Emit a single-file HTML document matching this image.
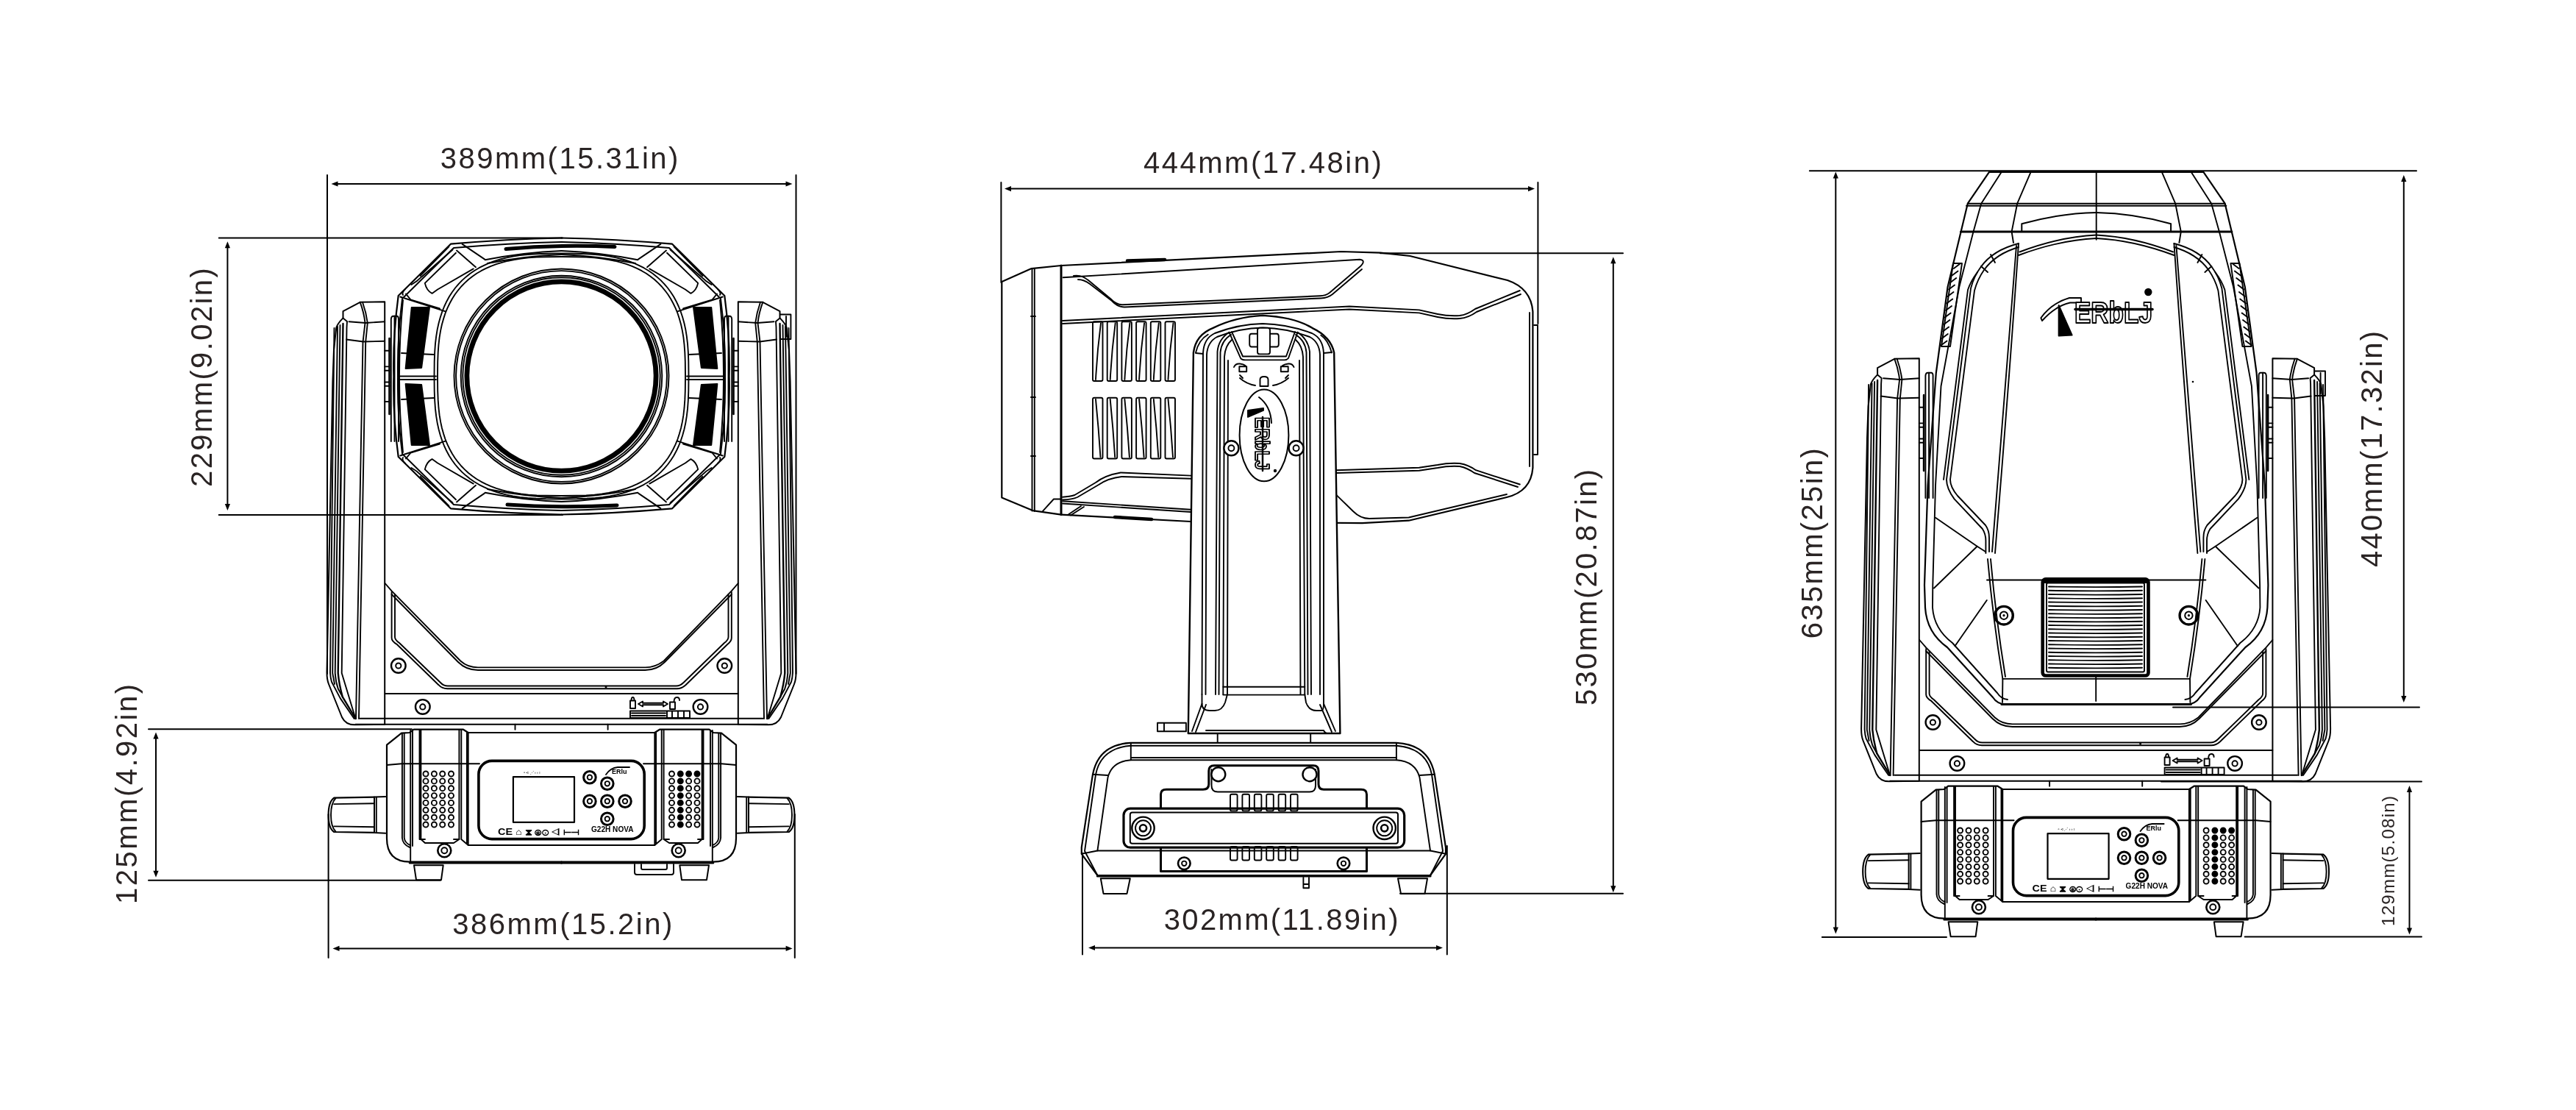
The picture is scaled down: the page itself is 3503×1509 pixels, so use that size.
<!DOCTYPE html>
<html><head><meta charset="utf-8"><style>
html,body{margin:0;padding:0;background:#fff;}
svg{display:block;will-change:transform;}
text{font-family:"Liberation Sans",sans-serif;}
</style></head><body>
<svg width="3503" height="1509" viewBox="0 0 3503 1509" stroke-linejoin="round" stroke-linecap="round">
<rect width="3503" height="1509" fill="#fff"/>
<text x="598.7" y="229.0" font-size="40" letter-spacing="2.5" font-weight="normal" fill="#2a2424">389mm(15.31in)</text>
<line x1="458.5" y1="250" x2="1069.5" y2="250" stroke="#000" stroke-width="2"/>
<path d="M450.5,250 L459.5,246.4 L459.5,253.6 Z" fill="#000"/>
<path d="M1077.5,250 L1068.5,246.4 L1068.5,253.6 Z" fill="#000"/>
<line x1="445" y1="238" x2="445" y2="916" stroke="#000" stroke-width="2"/>
<line x1="1082.5" y1="238" x2="1082.5" y2="916" stroke="#000" stroke-width="2"/>
<line x1="297.7" y1="323.4" x2="765" y2="323.4" stroke="#000" stroke-width="2"/>
<line x1="297.7" y1="700" x2="765" y2="700" stroke="#000" stroke-width="2"/>
<line x1="309.4" y1="336.2" x2="309.4" y2="686" stroke="#000" stroke-width="2"/>
<path d="M309.4,328.2 L305.79999999999995,337.2 L313.0,337.2 Z" fill="#000"/>
<path d="M309.4,694 L305.79999999999995,685 L313.0,685 Z" fill="#000"/>
<text x="0" y="0" transform="translate(288.2,662.0) rotate(-90)" font-size="40" letter-spacing="2.4" fill="#2a2424">229mm(9.02in)</text>
<line x1="202" y1="991.3" x2="560" y2="991.3" stroke="#000" stroke-width="2"/>
<line x1="202" y1="1196.7" x2="599" y2="1196.7" stroke="#000" stroke-width="2"/>
<line x1="212" y1="1003.6" x2="212" y2="1184.7" stroke="#000" stroke-width="2"/>
<path d="M212,995.6 L208.4,1004.6 L215.6,1004.6 Z" fill="#000"/>
<path d="M212,1192.7 L208.4,1183.7 L215.6,1183.7 Z" fill="#000"/>
<text x="0" y="0" transform="translate(185.5,1229.0) rotate(-90)" font-size="40" letter-spacing="2.5" fill="#2a2424">125mm(4.92in)</text>
<text x="615.3" y="1269.8" font-size="40" letter-spacing="2.5" font-weight="normal" fill="#2a2424">386mm(15.2in)</text>
<line x1="460.5" y1="1289.4" x2="1069.6" y2="1289.4" stroke="#000" stroke-width="2"/>
<path d="M452.5,1289.4 L461.5,1285.8000000000002 L461.5,1293.0 Z" fill="#000"/>
<path d="M1077.6,1289.4 L1068.6,1285.8000000000002 L1068.6,1293.0 Z" fill="#000"/>
<line x1="446.6" y1="1107" x2="446.6" y2="1302" stroke="#000" stroke-width="2"/>
<line x1="1080.8" y1="1107" x2="1080.8" y2="1302" stroke="#000" stroke-width="2"/>
<text x="1555.0" y="235.0" font-size="40" letter-spacing="2.5" font-weight="normal" fill="#2a2424">444mm(17.48in)</text>
<line x1="1374" y1="256.6" x2="2079" y2="256.6" stroke="#000" stroke-width="2"/>
<path d="M1366,256.6 L1375,253.00000000000003 L1375,260.20000000000005 Z" fill="#000"/>
<path d="M2087,256.6 L2078,253.00000000000003 L2078,260.20000000000005 Z" fill="#000"/>
<line x1="1361.4" y1="248" x2="1361.4" y2="384" stroke="#000" stroke-width="2"/>
<line x1="2091.4" y1="248" x2="2091.4" y2="440" stroke="#000" stroke-width="2"/>
<line x1="1877" y1="344.3" x2="2207" y2="344.3" stroke="#000" stroke-width="2"/>
<line x1="1904" y1="1214.8" x2="2207" y2="1214.8" stroke="#000" stroke-width="2"/>
<line x1="2193.8" y1="357.3" x2="2193.8" y2="1205.3" stroke="#000" stroke-width="2"/>
<path d="M2193.8,349.3 L2190.2000000000003,358.3 L2197.4,358.3 Z" fill="#000"/>
<path d="M2193.8,1213.3 L2190.2000000000003,1204.3 L2197.4,1204.3 Z" fill="#000"/>
<text x="0" y="0" transform="translate(2170.5,959.0) rotate(-90)" font-size="40" letter-spacing="2.3" fill="#2a2424">530mm(20.87in)</text>
<text x="1582.7" y="1263.9" font-size="40" letter-spacing="2.35" font-weight="normal" fill="#2a2424">302mm(11.89in)</text>
<line x1="1488" y1="1288.5" x2="1954" y2="1288.5" stroke="#000" stroke-width="2"/>
<path d="M1480,1288.5 L1489,1284.9 L1489,1292.1 Z" fill="#000"/>
<path d="M1962,1288.5 L1953,1284.9 L1953,1292.1 Z" fill="#000"/>
<line x1="1472" y1="1160" x2="1472" y2="1297.5" stroke="#000" stroke-width="2"/>
<line x1="1967.8" y1="1150" x2="1967.8" y2="1297.5" stroke="#000" stroke-width="2"/>
<line x1="2460.8" y1="232.3" x2="3286" y2="232.3" stroke="#000" stroke-width="2"/>
<line x1="2477.8" y1="1274" x2="2647" y2="1274" stroke="#000" stroke-width="2"/>
<line x1="2496.3" y1="241.5" x2="2496.3" y2="1261.5" stroke="#000" stroke-width="2"/>
<path d="M2496.3,233.5 L2492.7000000000003,242.5 L2499.9,242.5 Z" fill="#000"/>
<path d="M2496.3,1269.5 L2492.7000000000003,1260.5 L2499.9,1260.5 Z" fill="#000"/>
<text x="0" y="0" transform="translate(2477.5,868.3) rotate(-90)" font-size="40" letter-spacing="2.35" fill="#2a2424">635mm(25in)</text>
<line x1="2955" y1="961.6" x2="3290" y2="961.6" stroke="#000" stroke-width="2"/>
<line x1="3268.8" y1="246" x2="3268.8" y2="947.1" stroke="#000" stroke-width="2"/>
<path d="M3268.8,238 L3265.2000000000003,247 L3272.4,247 Z" fill="#000"/>
<path d="M3268.8,955.1 L3265.2000000000003,946.1 L3272.4,946.1 Z" fill="#000"/>
<text x="0" y="0" transform="translate(3238.7,771.0) rotate(-90)" font-size="40" letter-spacing="2.3" fill="#2a2424">440mm(17.32in)</text>
<line x1="2939" y1="1062.5" x2="3293" y2="1062.5" stroke="#000" stroke-width="2"/>
<line x1="3052.6" y1="1273.5" x2="3293" y2="1273.5" stroke="#000" stroke-width="2"/>
<line x1="3276.5" y1="1076" x2="3276.5" y2="1262.5" stroke="#000" stroke-width="2"/>
<path d="M3276.5,1068 L3272.9,1077 L3280.1,1077 Z" fill="#000"/>
<path d="M3276.5,1270.5 L3272.9,1261.5 L3280.1,1261.5 Z" fill="#000"/>
<text x="0" y="0" transform="translate(3256.0,1259.0) rotate(-90)" font-size="24" letter-spacing="1.3" fill="#2a2424">129mm(5.08in)</text>
<g><path d="M489.7,410.8 L523.2,410.3 L523.2,984.7 L482,985.3 Q470,985.3 465,975 L447,930 Q444.5,924 444.5,914 L452.4,519 L454,475.7 L457.3,445.4 Q459,440 466.5,432.4 L466.5,423.2 Z" stroke="#000" stroke-width="2" fill="none"/><path d="M466.5,432.4 L472,437 L471.5,445 L464.7,915 L483.5,977" stroke="#000" stroke-width="1.9" fill="none"/><path d="M454.5,446 L449,914.7 Q449.5,922 451,927 L462.8,949.4 L481.6,977" stroke="#000" stroke-width="1.9" fill="none"/><path d="M459,444 L452.2,915 L455,930" stroke="#000" stroke-width="1.9" fill="none"/><path d="M462.5,442 L455.7,915 Q456.5,927 459.8,936.5 L465.8,947.4" stroke="#000" stroke-width="1.9" fill="none"/><path d="M466.5,440 L459.7,915 Q461,930 465.8,947.4 L483.6,977" stroke="#000" stroke-width="2.4" fill="none"/><path d="M489.7,410.8 Q495,425 496.5,439 L493.5,465 L484,977" stroke="#000" stroke-width="1.9" fill="none"/><path d="M493,410.8 Q498,425 499.8,439 L497.2,465 L488,977" stroke="#000" stroke-width="1.9" fill="none"/><path d="M474.5,437.3 L497,439 L523.2,437.3" stroke="#000" stroke-width="1.9" fill="none"/><path d="M471,461.5 L494,464.5 L523.2,463.8" stroke="#000" stroke-width="1.9" fill="none"/><path d="M523.2,476.8 L529.5,476.8 M523.2,498.4 L529.5,498.4 M523.2,503.8 L529.5,503.8 M523.2,519.5 L529.5,519.5 M523.2,524.8 L529.5,524.8 M523.2,546 L529.5,546" stroke="#000" stroke-width="1.9" fill="none"/><path d="M529.5,460 L529.5,563" stroke="#000" stroke-width="2.6" fill="none"/><path d="M531.8,600 L531.8,434 Q532,429.7 535,429.7 L540,429.7 Q542,430 542,434 L542,600" stroke="#000" stroke-width="1.9" fill="none"/><path d="M536.5,429.7 L536.5,600" stroke="#000" stroke-width="1.9" fill="none"/></g>
<g transform="translate(1527.0,0) scale(-1,1)"><path d="M489.7,410.8 L523.2,410.3 L523.2,984.7 L482,985.3 Q470,985.3 465,975 L447,930 Q444.5,924 444.5,914 L452.4,519 L454,475.7 L457.3,445.4 Q459,440 466.5,432.4 L466.5,423.2 Z" stroke="#000" stroke-width="2" fill="none"/><path d="M466.5,432.4 L472,437 L471.5,445 L464.7,915 L483.5,977" stroke="#000" stroke-width="1.9" fill="none"/><path d="M454.5,446 L449,914.7 Q449.5,922 451,927 L462.8,949.4 L481.6,977" stroke="#000" stroke-width="1.9" fill="none"/><path d="M459,444 L452.2,915 L455,930" stroke="#000" stroke-width="1.9" fill="none"/><path d="M462.5,442 L455.7,915 Q456.5,927 459.8,936.5 L465.8,947.4" stroke="#000" stroke-width="1.9" fill="none"/><path d="M466.5,440 L459.7,915 Q461,930 465.8,947.4 L483.6,977" stroke="#000" stroke-width="2.4" fill="none"/><path d="M489.7,410.8 Q495,425 496.5,439 L493.5,465 L484,977" stroke="#000" stroke-width="1.9" fill="none"/><path d="M493,410.8 Q498,425 499.8,439 L497.2,465 L488,977" stroke="#000" stroke-width="1.9" fill="none"/><path d="M474.5,437.3 L497,439 L523.2,437.3" stroke="#000" stroke-width="1.9" fill="none"/><path d="M471,461.5 L494,464.5 L523.2,463.8" stroke="#000" stroke-width="1.9" fill="none"/><path d="M523.2,476.8 L529.5,476.8 M523.2,498.4 L529.5,498.4 M523.2,503.8 L529.5,503.8 M523.2,519.5 L529.5,519.5 M523.2,524.8 L529.5,524.8 M523.2,546 L529.5,546" stroke="#000" stroke-width="1.9" fill="none"/><path d="M529.5,460 L529.5,563" stroke="#000" stroke-width="2.6" fill="none"/><path d="M531.8,600 L531.8,434 Q532,429.7 535,429.7 L540,429.7 Q542,430 542,434 L542,600" stroke="#000" stroke-width="1.9" fill="none"/><path d="M536.5,429.7 L536.5,600" stroke="#000" stroke-width="1.9" fill="none"/></g>
<path d="M1061.3,427.5 L1075.4,427.5 L1075.4,461 L1061.3,461" stroke="#000" stroke-width="1.9" fill="none"/>
<path d="M1069,430 L1069,458" stroke="#000" stroke-width="1.9" fill="none"/>
<path d="M523.6,793 L532.6,803.4 L626.2,898.5 Q636,907.4 650,907.4 L877.4,907.4 Q891,907.4 902.7,898.5 L994.8,803.4 L1003.7,793" stroke="#000" stroke-width="1.9" fill="none"/>
<path d="M532.6,808 L623,900 Q634,911 650,911 L877.4,911 Q893,911 904,900 L994.8,808" stroke="#000" stroke-width="1.9" fill="none"/>
<path d="M532.6,804.9 L532.6,867.3 Q532.6,872 540,876.2 L596.5,931.2 Q601,936.2 608.4,936.2 L920.5,936.2 Q927,936.2 932.4,931.2 L988.9,876.2 Q994.8,872 994.8,867.3 L994.8,804.9" stroke="#000" stroke-width="1.9" fill="none"/>
<path d="M537,808 L537,866 Q537,870 543,874 L599,928 Q603,932.5 609,932.5 L919.5,932.5 Q925,932.5 929.5,928 L985,874 Q990.5,870 990.5,866 L990.5,808" stroke="#000" stroke-width="1.9" fill="none"/>
<circle cx="541.8" cy="905" r="9.8" stroke="#000" stroke-width="2.4" fill="none"/>
<circle cx="541.8" cy="905" r="3.6" stroke="#000" stroke-width="2" fill="none"/>
<circle cx="985.3" cy="905" r="9.8" stroke="#000" stroke-width="2.4" fill="none"/>
<circle cx="985.3" cy="905" r="3.6" stroke="#000" stroke-width="2" fill="none"/>
<circle cx="574.8" cy="960.9" r="9.8" stroke="#000" stroke-width="2.4" fill="none"/>
<circle cx="574.8" cy="960.9" r="3.6" stroke="#000" stroke-width="2" fill="none"/>
<circle cx="952.5" cy="960.9" r="9.8" stroke="#000" stroke-width="2.4" fill="none"/>
<circle cx="952.5" cy="960.9" r="3.6" stroke="#000" stroke-width="2" fill="none"/>
<path d="M523.6,943 L1003.7,943" stroke="#000" stroke-width="2" fill="none"/>
<path d="M489.5,976.7 L1037.5,976.7" stroke="#000" stroke-width="1.9" fill="none"/>
<path d="M483.5,984.7 L1043.5,984.7" stroke="#000" stroke-width="2" fill="none"/>
<circle cx="824" cy="934" r="1.5" fill="#000"/>
<path d="M857,952.5 L857,963 L864,963 L864,952.5 Z M858.5,952.5 Q858.5,948 860.5,948 Q862.5,948 862.5,952.5" stroke="#000" stroke-width="1.9" fill="none"/>
<path d="M868,957 L874,953.5 L874,955.8 L902,955.8 L902,953.5 L908,957 L902,960.5 L902,958.2 L874,958.2 L874,960.5 Z" stroke="#000" stroke-width="1.9" fill="none"/>
<path d="M911,954.5 L911,964 L918,964 L918,954.5 Z M916.5,954.5 Q916.5,948 920.5,948 Q924,948 924,952" stroke="#000" stroke-width="1.9" fill="none"/>
<path d="M857,966.5 L938,966.5 L938,976 L857,976 Z" stroke="#000" stroke-width="1.9" fill="none"/>
<path d="M859,969.5 L905,969.5 M859,973 L905,973 M907,967 L907,976 M914,967 L914,976 M922,967 L922,976 M930,967 L930,976" stroke="#000" stroke-width="1.9" fill="none"/>
<path d="M700.5,984.7 L700.5,991.7 M826.6,984.7 L826.6,991.7" stroke="#000" stroke-width="1.9" fill="none"/>
<g><path d="M763.5,996 L636.7,996 L630,991.7 L562.6,991.7 L557,996 L546,996.6 L526,1012.7 L526,1139.5 Q526,1171.6 557.3,1171.6 L763.5,1171.6" stroke="#000" stroke-width="2.2" fill="none"/><path d="M557.3,1173 L763.5,1173" stroke="#000" stroke-width="3.2" fill="none"/><path d="M546.9,997 L546.9,1139 Q547.5,1148 557.3,1152" stroke="#000" stroke-width="1.9" fill="none"/><path d="M549.7,997 L549.7,1139 Q550.5,1146 558,1149" stroke="#000" stroke-width="1.9" fill="none"/><path d="M558.2,993 L558.2,1171.6" stroke="#000" stroke-width="1.9" fill="none"/><path d="M561,993 L561,1150" stroke="#000" stroke-width="1.9" fill="none"/><path d="M570.5,992 L570.5,1141 L578,1141 M572.4,992 L572.4,1141" stroke="#000" stroke-width="1.9" fill="none"/><path d="M624.4,992 L624.4,1141 L617,1141 M627.3,992 L627.3,1141 L636.7,1149 L763.5,1149" stroke="#000" stroke-width="1.9" fill="none"/><path d="M634.9,996 L634.9,1146 M636.7,996 L636.7,1149" stroke="#000" stroke-width="1.9" fill="none"/><path d="M526,1040 L546,1038.2 L652,1038.2" stroke="#000" stroke-width="1.9" fill="none"/><path d="M572.4,1141 L578,1146 L617,1146 L624.4,1141" stroke="#000" stroke-width="1.9" fill="none"/><circle cx="579" cy="1052.0" r="3.5" stroke="#000" stroke-width="1.9" fill="none"/><circle cx="579" cy="1061.9" r="3.5" stroke="#000" stroke-width="1.9" fill="none"/><circle cx="579" cy="1071.7" r="3.5" stroke="#000" stroke-width="1.9" fill="none"/><circle cx="579" cy="1081.6" r="3.5" stroke="#000" stroke-width="1.9" fill="none"/><circle cx="579" cy="1091.4" r="3.5" stroke="#000" stroke-width="1.9" fill="none"/><circle cx="579" cy="1101.3" r="3.5" stroke="#000" stroke-width="1.9" fill="none"/><circle cx="579" cy="1111.2" r="3.5" stroke="#000" stroke-width="1.9" fill="none"/><circle cx="579" cy="1121.0" r="3.5" stroke="#000" stroke-width="1.9" fill="none"/><circle cx="590.4" cy="1052.0" r="3.5" stroke="#000" stroke-width="1.9" fill="none"/><circle cx="590.4" cy="1061.9" r="3.5" stroke="#000" stroke-width="1.9" fill="none"/><circle cx="590.4" cy="1071.7" r="3.5" stroke="#000" stroke-width="1.9" fill="none"/><circle cx="590.4" cy="1081.6" r="3.5" stroke="#000" stroke-width="1.9" fill="none"/><circle cx="590.4" cy="1091.4" r="3.5" stroke="#000" stroke-width="1.9" fill="none"/><circle cx="590.4" cy="1101.3" r="3.5" stroke="#000" stroke-width="1.9" fill="none"/><circle cx="590.4" cy="1111.2" r="3.5" stroke="#000" stroke-width="1.9" fill="none"/><circle cx="590.4" cy="1121.0" r="3.5" stroke="#000" stroke-width="1.9" fill="none"/><circle cx="601.7" cy="1052.0" r="3.5" stroke="#000" stroke-width="1.9" fill="none"/><circle cx="601.7" cy="1061.9" r="3.5" stroke="#000" stroke-width="1.9" fill="none"/><circle cx="601.7" cy="1071.7" r="3.5" stroke="#000" stroke-width="1.9" fill="none"/><circle cx="601.7" cy="1081.6" r="3.5" stroke="#000" stroke-width="1.9" fill="none"/><circle cx="601.7" cy="1091.4" r="3.5" stroke="#000" stroke-width="1.9" fill="none"/><circle cx="601.7" cy="1101.3" r="3.5" stroke="#000" stroke-width="1.9" fill="none"/><circle cx="601.7" cy="1111.2" r="3.5" stroke="#000" stroke-width="1.9" fill="none"/><circle cx="601.7" cy="1121.0" r="3.5" stroke="#000" stroke-width="1.9" fill="none"/><circle cx="613.5" cy="1052.0" r="3.5" stroke="#000" stroke-width="1.9" fill="none"/><circle cx="613.5" cy="1061.9" r="3.5" stroke="#000" stroke-width="1.9" fill="none"/><circle cx="613.5" cy="1071.7" r="3.5" stroke="#000" stroke-width="1.9" fill="none"/><circle cx="613.5" cy="1081.6" r="3.5" stroke="#000" stroke-width="1.9" fill="none"/><circle cx="613.5" cy="1091.4" r="3.5" stroke="#000" stroke-width="1.9" fill="none"/><circle cx="613.5" cy="1101.3" r="3.5" stroke="#000" stroke-width="1.9" fill="none"/><circle cx="613.5" cy="1111.2" r="3.5" stroke="#000" stroke-width="1.9" fill="none"/><circle cx="613.5" cy="1121.0" r="3.5" stroke="#000" stroke-width="1.9" fill="none"/><path d="M563,1176.3 L602.7,1176.3 L600,1196.2 L566,1196.2 Z" stroke="#000" stroke-width="2" fill="none"/><path d="M524.2,1083 L509,1083.6 L509,1131.9 L524.2,1132.8" stroke="#000" stroke-width="2" fill="none"/><path d="M511.8,1083.6 L511.8,1131.9" stroke="#000" stroke-width="1.9" fill="none"/><path d="M509,1083.6 L454.2,1084.6 Q446.6,1090 446.6,1108 Q446.6,1126 454.2,1131 L509,1131.9" stroke="#000" stroke-width="2.1" fill="none"/><path d="M456.5,1085 Q450,1092 450,1108 Q450,1124 456.5,1130.5" stroke="#000" stroke-width="1.9" fill="none"/><path d="M454.2,1093.1 L509,1092.3 M454.2,1123.4 L509,1124.2" stroke="#000" stroke-width="1.9" fill="none"/><circle cx="604.3" cy="1156.3" r="9" stroke="#000" stroke-width="2.6" fill="none"/><circle cx="604.3" cy="1156.3" r="4" stroke="#000" stroke-width="1.9" fill="none"/></g>
<g transform="translate(1527.0,0) scale(-1,1)"><path d="M763.5,996 L636.7,996 L630,991.7 L562.6,991.7 L557,996 L546,996.6 L526,1012.7 L526,1139.5 Q526,1171.6 557.3,1171.6 L763.5,1171.6" stroke="#000" stroke-width="2.2" fill="none"/><path d="M557.3,1173 L763.5,1173" stroke="#000" stroke-width="3.2" fill="none"/><path d="M546.9,997 L546.9,1139 Q547.5,1148 557.3,1152" stroke="#000" stroke-width="1.9" fill="none"/><path d="M549.7,997 L549.7,1139 Q550.5,1146 558,1149" stroke="#000" stroke-width="1.9" fill="none"/><path d="M558.2,993 L558.2,1171.6" stroke="#000" stroke-width="1.9" fill="none"/><path d="M561,993 L561,1150" stroke="#000" stroke-width="1.9" fill="none"/><path d="M570.5,992 L570.5,1141 L578,1141 M572.4,992 L572.4,1141" stroke="#000" stroke-width="1.9" fill="none"/><path d="M624.4,992 L624.4,1141 L617,1141 M627.3,992 L627.3,1141 L636.7,1149 L763.5,1149" stroke="#000" stroke-width="1.9" fill="none"/><path d="M634.9,996 L634.9,1146 M636.7,996 L636.7,1149" stroke="#000" stroke-width="1.9" fill="none"/><path d="M526,1040 L546,1038.2 L652,1038.2" stroke="#000" stroke-width="1.9" fill="none"/><path d="M572.4,1141 L578,1146 L617,1146 L624.4,1141" stroke="#000" stroke-width="1.9" fill="none"/><circle cx="579" cy="1052.0" r="3.5" stroke="#000" stroke-width="1.9" fill="none"/><circle cx="579" cy="1061.9" r="3.5" stroke="#000" stroke-width="1.9" fill="none"/><circle cx="579" cy="1071.7" r="3.5" stroke="#000" stroke-width="1.9" fill="none"/><circle cx="579" cy="1081.6" r="3.5" stroke="#000" stroke-width="1.9" fill="none"/><circle cx="579" cy="1091.4" r="3.5" stroke="#000" stroke-width="1.9" fill="none"/><circle cx="579" cy="1101.3" r="3.5" stroke="#000" stroke-width="1.9" fill="none"/><circle cx="579" cy="1111.2" r="3.5" stroke="#000" stroke-width="1.9" fill="none"/><circle cx="579" cy="1121.0" r="3.5" stroke="#000" stroke-width="1.9" fill="none"/><circle cx="590.4" cy="1052.0" r="3.5" stroke="#000" stroke-width="1.9" fill="none"/><circle cx="590.4" cy="1061.9" r="3.5" stroke="#000" stroke-width="1.9" fill="none"/><circle cx="590.4" cy="1071.7" r="3.5" stroke="#000" stroke-width="1.9" fill="none"/><circle cx="590.4" cy="1081.6" r="3.5" stroke="#000" stroke-width="1.9" fill="none"/><circle cx="590.4" cy="1091.4" r="3.5" stroke="#000" stroke-width="1.9" fill="none"/><circle cx="590.4" cy="1101.3" r="3.5" stroke="#000" stroke-width="1.9" fill="none"/><circle cx="590.4" cy="1111.2" r="3.5" stroke="#000" stroke-width="1.9" fill="none"/><circle cx="590.4" cy="1121.0" r="3.5" stroke="#000" stroke-width="1.9" fill="none"/><circle cx="601.7" cy="1052.0" r="3.5" stroke="#000" stroke-width="1.9" fill="none"/><circle cx="601.7" cy="1061.9" r="3.5" stroke="#000" stroke-width="1.9" fill="none"/><circle cx="601.7" cy="1071.7" r="3.5" stroke="#000" stroke-width="1.9" fill="none"/><circle cx="601.7" cy="1081.6" r="3.5" stroke="#000" stroke-width="1.9" fill="none"/><circle cx="601.7" cy="1091.4" r="3.5" stroke="#000" stroke-width="1.9" fill="none"/><circle cx="601.7" cy="1101.3" r="3.5" stroke="#000" stroke-width="1.9" fill="none"/><circle cx="601.7" cy="1111.2" r="3.5" stroke="#000" stroke-width="1.9" fill="none"/><circle cx="601.7" cy="1121.0" r="3.5" stroke="#000" stroke-width="1.9" fill="none"/><circle cx="613.5" cy="1052.0" r="3.5" stroke="#000" stroke-width="1.9" fill="none"/><circle cx="613.5" cy="1061.9" r="3.5" stroke="#000" stroke-width="1.9" fill="none"/><circle cx="613.5" cy="1071.7" r="3.5" stroke="#000" stroke-width="1.9" fill="none"/><circle cx="613.5" cy="1081.6" r="3.5" stroke="#000" stroke-width="1.9" fill="none"/><circle cx="613.5" cy="1091.4" r="3.5" stroke="#000" stroke-width="1.9" fill="none"/><circle cx="613.5" cy="1101.3" r="3.5" stroke="#000" stroke-width="1.9" fill="none"/><circle cx="613.5" cy="1111.2" r="3.5" stroke="#000" stroke-width="1.9" fill="none"/><circle cx="613.5" cy="1121.0" r="3.5" stroke="#000" stroke-width="1.9" fill="none"/><path d="M563,1176.3 L602.7,1176.3 L600,1196.2 L566,1196.2 Z" stroke="#000" stroke-width="2" fill="none"/><path d="M524.2,1083 L509,1083.6 L509,1131.9 L524.2,1132.8" stroke="#000" stroke-width="2" fill="none"/><path d="M511.8,1083.6 L511.8,1131.9" stroke="#000" stroke-width="1.9" fill="none"/><path d="M509,1083.6 L454.2,1084.6 Q446.6,1090 446.6,1108 Q446.6,1126 454.2,1131 L509,1131.9" stroke="#000" stroke-width="2.1" fill="none"/><path d="M456.5,1085 Q450,1092 450,1108 Q450,1124 456.5,1130.5" stroke="#000" stroke-width="1.9" fill="none"/><path d="M454.2,1093.1 L509,1092.3 M454.2,1123.4 L509,1124.2" stroke="#000" stroke-width="1.9" fill="none"/><circle cx="604.3" cy="1156.3" r="9" stroke="#000" stroke-width="2.6" fill="none"/><circle cx="604.3" cy="1156.3" r="4" stroke="#000" stroke-width="1.9" fill="none"/></g>
<circle cx="925.3" cy="1052.0" r="3.5" fill="#000"/>
<circle cx="925.3" cy="1061.9" r="3.5" fill="#000"/>
<circle cx="925.3" cy="1071.7" r="3.5" fill="#000"/>
<circle cx="925.3" cy="1081.6" r="3.5" fill="#000"/>
<circle cx="925.3" cy="1091.4" r="3.5" fill="#000"/>
<circle cx="925.3" cy="1101.3" r="3.5" fill="#000"/>
<circle cx="925.3" cy="1111.2" r="3.5" fill="#000"/>
<circle cx="925.3" cy="1121.0" r="3.5" fill="#000"/>
<circle cx="936.6" cy="1052.0" r="3.5" fill="#000"/>
<circle cx="948" cy="1052.0" r="3.5" fill="#000"/>
<rect x="650.9" y="1034.4" width="225.3" height="106.2" rx="18" stroke="#000" stroke-width="3.6" fill="none"/>
<rect x="697.9" y="1056.2" width="83.1" height="61.6" stroke="#000" stroke-width="2.2" fill="none"/>
<circle cx="801.9" cy="1056.7" r="8.3" stroke="#000" stroke-width="3" fill="none"/>
<circle cx="801.9" cy="1056.7" r="3.2" stroke="#000" stroke-width="1.9" fill="none"/>
<circle cx="825.8" cy="1065.3" r="8.3" stroke="#000" stroke-width="3" fill="none"/>
<circle cx="825.8" cy="1065.3" r="3.2" stroke="#000" stroke-width="1.9" fill="none"/>
<circle cx="801.9" cy="1089.2" r="8.3" stroke="#000" stroke-width="3" fill="none"/>
<circle cx="801.9" cy="1089.2" r="3.2" stroke="#000" stroke-width="1.9" fill="none"/>
<circle cx="825.8" cy="1089.2" r="8.3" stroke="#000" stroke-width="3" fill="none"/>
<circle cx="825.8" cy="1089.2" r="3.2" stroke="#000" stroke-width="1.9" fill="none"/>
<circle cx="850" cy="1089.2" r="8.3" stroke="#000" stroke-width="3" fill="none"/>
<circle cx="850" cy="1089.2" r="3.2" stroke="#000" stroke-width="1.9" fill="none"/>
<circle cx="825.8" cy="1113.2" r="8.3" stroke="#000" stroke-width="3" fill="none"/>
<circle cx="825.8" cy="1113.2" r="3.2" stroke="#000" stroke-width="1.9" fill="none"/>
<text x="804" y="1131.2" font-size="10.6" font-weight="bold" fill="#000" textLength="57.5" lengthAdjust="spacingAndGlyphs">G22H NOVA</text>
<text x="677" y="1134.5" font-size="12" font-weight="bold" fill="#000" textLength="111" lengthAdjust="spacingAndGlyphs">CE ⌂ ⧗ ⊛⊙ ◁ ⊢⊣</text>
<text x="712" y="1052" font-size="5" fill="#000">ᵃ ⋖ ⋰ ›  ›  ı</text>
<path d="M824,1053 Q830,1044 840,1043 L856,1043" stroke="#000" stroke-width="1.9" fill="none"/>
<text x="832" y="1052" font-size="9" font-weight="bold" fill="#000">ERlu</text>
<g><path d="M763.5,323.5 Q690,325 612.9,331.7 L541.7,402 Q534,460 535.4,511.5 Q534,563 541.7,621 L612.9,691.3 Q690,698 763.5,699.5" stroke="#000" stroke-width="2.2" fill="none"/><path d="M763.5,329 Q692,330.5 617,337 L547,406 Q540,460 541,511.5 Q540,563 547,617 L617,686 Q692,692.5 763.5,694" stroke="#000" stroke-width="1.9" fill="none"/><path d="M659.7,353.3 Q712,343 763.5,341" stroke="#000" stroke-width="1.9" fill="none"/><path d="M663,358 Q714,348 763.5,346" stroke="#000" stroke-width="1.9" fill="none"/><path d="M659.7,669.7 Q712,680 763.5,682" stroke="#000" stroke-width="1.9" fill="none"/><path d="M663,665 Q714,675 763.5,677" stroke="#000" stroke-width="1.9" fill="none"/><path d="M610.4,335.4 L571.6,375.1" stroke="#000" stroke-width="1.9" fill="none"/><path d="M615.5,339.5 L573.5,376.2 Q567,383 559.4,387" stroke="#000" stroke-width="1.9" fill="none"/><path d="M620,343.8 L577.8,384.9 Q580,395 587.5,398.9 L595.1,393.5 L643.8,365.4" stroke="#000" stroke-width="1.9" fill="none"/><path d="M628.6,331.9 L658.9,352.4" stroke="#000" stroke-width="1.9" fill="none"/><path d="M621,340.5 L647,363.2" stroke="#000" stroke-width="1.9" fill="none"/><path d="M544.2,403.5 L605.7,423.4" stroke="#000" stroke-width="1.9" fill="none"/><path d="M552,399.5 L558.4,407.3 L598,419.5" stroke="#000" stroke-width="1.9" fill="none"/><path d="M548,401 Q546,398 551,393" stroke="#000" stroke-width="1.9" fill="none"/><g transform="translate(0,1023.0) scale(1,-1)"><path d="M610.4,335.4 L571.6,375.1" stroke="#000" stroke-width="1.9" fill="none"/><path d="M615.5,339.5 L573.5,376.2 Q567,383 559.4,387" stroke="#000" stroke-width="1.9" fill="none"/><path d="M620,343.8 L577.8,384.9 Q580,395 587.5,398.9 L595.1,393.5 L643.8,365.4" stroke="#000" stroke-width="1.9" fill="none"/><path d="M628.6,331.9 L658.9,352.4" stroke="#000" stroke-width="1.9" fill="none"/><path d="M621,340.5 L647,363.2" stroke="#000" stroke-width="1.9" fill="none"/><path d="M544.2,403.5 L605.7,423.4" stroke="#000" stroke-width="1.9" fill="none"/><path d="M552,399.5 L558.4,407.3 L598,419.5" stroke="#000" stroke-width="1.9" fill="none"/><path d="M548,401 Q546,398 551,393" stroke="#000" stroke-width="1.9" fill="none"/></g><path d="M559.7,418 L584,418 L573.2,500 L551.6,501 Z" stroke="#000" stroke-width="1.9" fill="#000"/><path d="M551.6,522 L573.2,523 L584,605 L559.7,605 Z" stroke="#000" stroke-width="1.9" fill="#000"/><path d="M546,480 L590,482 M541,511.5 L593,511.5 M541,516 L593,516 M546,543 L590,541" stroke="#000" stroke-width="1.9" fill="none"/><path d="M548,408 Q543,460 543,511.5 Q543,563 548,615" stroke="#000" stroke-width="1.9" fill="none"/></g>
<g transform="translate(1527.0,0) scale(-1,1)"><path d="M763.5,323.5 Q690,325 612.9,331.7 L541.7,402 Q534,460 535.4,511.5 Q534,563 541.7,621 L612.9,691.3 Q690,698 763.5,699.5" stroke="#000" stroke-width="2.2" fill="none"/><path d="M763.5,329 Q692,330.5 617,337 L547,406 Q540,460 541,511.5 Q540,563 547,617 L617,686 Q692,692.5 763.5,694" stroke="#000" stroke-width="1.9" fill="none"/><path d="M659.7,353.3 Q712,343 763.5,341" stroke="#000" stroke-width="1.9" fill="none"/><path d="M663,358 Q714,348 763.5,346" stroke="#000" stroke-width="1.9" fill="none"/><path d="M659.7,669.7 Q712,680 763.5,682" stroke="#000" stroke-width="1.9" fill="none"/><path d="M663,665 Q714,675 763.5,677" stroke="#000" stroke-width="1.9" fill="none"/><path d="M610.4,335.4 L571.6,375.1" stroke="#000" stroke-width="1.9" fill="none"/><path d="M615.5,339.5 L573.5,376.2 Q567,383 559.4,387" stroke="#000" stroke-width="1.9" fill="none"/><path d="M620,343.8 L577.8,384.9 Q580,395 587.5,398.9 L595.1,393.5 L643.8,365.4" stroke="#000" stroke-width="1.9" fill="none"/><path d="M628.6,331.9 L658.9,352.4" stroke="#000" stroke-width="1.9" fill="none"/><path d="M621,340.5 L647,363.2" stroke="#000" stroke-width="1.9" fill="none"/><path d="M544.2,403.5 L605.7,423.4" stroke="#000" stroke-width="1.9" fill="none"/><path d="M552,399.5 L558.4,407.3 L598,419.5" stroke="#000" stroke-width="1.9" fill="none"/><path d="M548,401 Q546,398 551,393" stroke="#000" stroke-width="1.9" fill="none"/><g transform="translate(0,1023.0) scale(1,-1)"><path d="M610.4,335.4 L571.6,375.1" stroke="#000" stroke-width="1.9" fill="none"/><path d="M615.5,339.5 L573.5,376.2 Q567,383 559.4,387" stroke="#000" stroke-width="1.9" fill="none"/><path d="M620,343.8 L577.8,384.9 Q580,395 587.5,398.9 L595.1,393.5 L643.8,365.4" stroke="#000" stroke-width="1.9" fill="none"/><path d="M628.6,331.9 L658.9,352.4" stroke="#000" stroke-width="1.9" fill="none"/><path d="M621,340.5 L647,363.2" stroke="#000" stroke-width="1.9" fill="none"/><path d="M544.2,403.5 L605.7,423.4" stroke="#000" stroke-width="1.9" fill="none"/><path d="M552,399.5 L558.4,407.3 L598,419.5" stroke="#000" stroke-width="1.9" fill="none"/><path d="M548,401 Q546,398 551,393" stroke="#000" stroke-width="1.9" fill="none"/></g><path d="M559.7,418 L584,418 L573.2,500 L551.6,501 Z" stroke="#000" stroke-width="1.9" fill="#000"/><path d="M551.6,522 L573.2,523 L584,605 L559.7,605 Z" stroke="#000" stroke-width="1.9" fill="#000"/><path d="M546,480 L590,482 M541,511.5 L593,511.5 M541,516 L593,516 M546,543 L590,541" stroke="#000" stroke-width="1.9" fill="none"/><path d="M548,408 Q543,460 543,511.5 Q543,563 548,615" stroke="#000" stroke-width="1.9" fill="none"/></g>
<path d="M936.5,511.5 L936.3,531.8 L935.8,544.8 L935.0,555.9 L933.8,565.9 L932.3,575.1 L930.4,583.7 L928.2,591.7 L925.7,599.3 L922.8,606.5 L919.6,613.3 L916.1,619.7 L912.2,625.8 L908.0,631.5 L903.4,636.8 L898.6,641.9 L893.3,646.6 L887.8,651.0 L881.9,655.0 L875.6,658.8 L868.9,662.2 L861.9,665.3 L854.5,668.1 L846.6,670.5 L838.3,672.6 L829.4,674.4 L819.8,675.9 L809.5,677.0 L798.0,677.8 L784.5,678.3 L763.5,678.5 L742.5,678.3 L729.0,677.8 L717.5,677.0 L707.2,675.9 L697.6,674.4 L688.7,672.6 L680.4,670.5 L672.5,668.1 L665.1,665.3 L658.1,662.2 L651.4,658.8 L645.1,655.0 L639.2,651.0 L633.7,646.6 L628.4,641.9 L623.6,636.8 L619.0,631.5 L614.8,625.8 L610.9,619.7 L607.4,613.3 L604.2,606.5 L601.3,599.3 L598.8,591.7 L596.6,583.7 L594.7,575.1 L593.2,565.9 L592.0,555.9 L591.2,544.8 L590.7,531.8 L590.5,511.5 L590.7,491.2 L591.2,478.2 L592.0,467.1 L593.2,457.1 L594.7,447.9 L596.6,439.3 L598.8,431.3 L601.3,423.7 L604.2,416.5 L607.4,409.7 L610.9,403.3 L614.8,397.2 L619.0,391.5 L623.6,386.2 L628.4,381.1 L633.7,376.4 L639.2,372.0 L645.1,368.0 L651.4,364.2 L658.1,360.8 L665.1,357.7 L672.5,354.9 L680.4,352.5 L688.7,350.4 L697.6,348.6 L707.2,347.1 L717.5,346.0 L729.0,345.2 L742.5,344.7 L763.5,344.5 L784.5,344.7 L798.0,345.2 L809.5,346.0 L819.8,347.1 L829.4,348.6 L838.3,350.4 L846.6,352.5 L854.5,354.9 L861.9,357.7 L868.9,360.8 L875.6,364.2 L881.9,368.0 L887.8,372.0 L893.3,376.4 L898.6,381.1 L903.4,386.2 L908.0,391.5 L912.2,397.2 L916.1,403.3 L919.6,409.7 L922.8,416.5 L925.7,423.7 L928.2,431.3 L930.4,439.3 L932.3,447.9 L933.8,457.1 L935.0,467.1 L935.8,478.2 L936.3,491.2 Z" stroke="#000" stroke-width="1.9" fill="none"/>
<path d="M932.0,511.5 L931.8,531.3 L931.3,543.9 L930.5,554.7 L929.4,564.4 L927.9,573.4 L926.1,581.7 L923.9,589.6 L921.5,597.0 L918.7,603.9 L915.5,610.5 L912.1,616.8 L908.3,622.7 L904.2,628.2 L899.8,633.5 L895.0,638.4 L890.0,643.0 L884.5,647.2 L878.8,651.2 L872.7,654.8 L866.2,658.1 L859.4,661.1 L852.1,663.8 L844.5,666.2 L836.3,668.3 L827.7,670.0 L818.4,671.5 L808.3,672.6 L797.1,673.4 L784.0,673.8 L763.5,674.0 L743.0,673.8 L729.9,673.4 L718.7,672.6 L708.6,671.5 L699.3,670.0 L690.7,668.3 L682.5,666.2 L674.9,663.8 L667.6,661.1 L660.8,658.1 L654.3,654.8 L648.2,651.2 L642.5,647.2 L637.0,643.0 L632.0,638.4 L627.2,633.5 L622.8,628.2 L618.7,622.7 L614.9,616.8 L611.5,610.5 L608.3,603.9 L605.5,597.0 L603.1,589.6 L600.9,581.7 L599.1,573.4 L597.6,564.4 L596.5,554.7 L595.7,543.9 L595.2,531.3 L595.0,511.5 L595.2,491.7 L595.7,479.1 L596.5,468.3 L597.6,458.6 L599.1,449.6 L600.9,441.3 L603.1,433.4 L605.5,426.0 L608.3,419.1 L611.5,412.5 L614.9,406.2 L618.7,400.3 L622.8,394.8 L627.2,389.5 L632.0,384.6 L637.0,380.0 L642.5,375.8 L648.2,371.8 L654.3,368.2 L660.8,364.9 L667.6,361.9 L674.9,359.2 L682.5,356.8 L690.7,354.7 L699.3,353.0 L708.6,351.5 L718.7,350.4 L729.9,349.6 L743.0,349.2 L763.5,349.0 L784.0,349.2 L797.1,349.6 L808.3,350.4 L818.4,351.5 L827.7,353.0 L836.3,354.7 L844.5,356.8 L852.1,359.2 L859.4,361.9 L866.2,364.9 L872.7,368.2 L878.8,371.8 L884.5,375.8 L890.0,380.0 L895.0,384.6 L899.8,389.5 L904.2,394.8 L908.3,400.3 L912.1,406.2 L915.5,412.5 L918.7,419.1 L921.5,426.0 L923.9,433.4 L926.1,441.3 L927.9,449.6 L929.4,458.6 L930.5,468.3 L931.3,479.1 L931.8,491.7 Z" stroke="#000" stroke-width="1.9" fill="none"/>
<circle cx="763.5" cy="511.5" r="146" stroke="#000" stroke-width="1.9" fill="none"/>
<circle cx="763.5" cy="511.5" r="143.4" stroke="#000" stroke-width="1.9" fill="none"/>
<circle cx="763.5" cy="511.5" r="136.8" stroke="#000" stroke-width="1.9" fill="none"/>
<circle cx="763.5" cy="511.5" r="134.2" stroke="#000" stroke-width="1.9" fill="none"/>
<circle cx="763.5" cy="511.5" r="128.6" stroke="#000" stroke-width="6.8" fill="none"/>
<path d="M688,338.5 Q762,332 836,335.5" stroke="#000" stroke-width="5" fill="none"/>
<path d="M690,686 Q762,691 839,687" stroke="#000" stroke-width="5" fill="none"/>
<g transform="translate(2086.6,77)"><g><path d="M489.7,410.8 L523.2,410.3 L523.2,984.7 L482,985.3 Q470,985.3 465,975 L447,930 Q444.5,924 444.5,914 L452.4,519 L454,475.7 L457.3,445.4 Q459,440 466.5,432.4 L466.5,423.2 Z" stroke="#000" stroke-width="2" fill="none"/><path d="M466.5,432.4 L472,437 L471.5,445 L464.7,915 L483.5,977" stroke="#000" stroke-width="1.9" fill="none"/><path d="M454.5,446 L449,914.7 Q449.5,922 451,927 L462.8,949.4 L481.6,977" stroke="#000" stroke-width="1.9" fill="none"/><path d="M459,444 L452.2,915 L455,930" stroke="#000" stroke-width="1.9" fill="none"/><path d="M462.5,442 L455.7,915 Q456.5,927 459.8,936.5 L465.8,947.4" stroke="#000" stroke-width="1.9" fill="none"/><path d="M466.5,440 L459.7,915 Q461,930 465.8,947.4 L483.6,977" stroke="#000" stroke-width="2.4" fill="none"/><path d="M489.7,410.8 Q495,425 496.5,439 L493.5,465 L484,977" stroke="#000" stroke-width="1.9" fill="none"/><path d="M493,410.8 Q498,425 499.8,439 L497.2,465 L488,977" stroke="#000" stroke-width="1.9" fill="none"/><path d="M474.5,437.3 L497,439 L523.2,437.3" stroke="#000" stroke-width="1.9" fill="none"/><path d="M471,461.5 L494,464.5 L523.2,463.8" stroke="#000" stroke-width="1.9" fill="none"/><path d="M523.2,476.8 L529.5,476.8 M523.2,498.4 L529.5,498.4 M523.2,503.8 L529.5,503.8 M523.2,519.5 L529.5,519.5 M523.2,524.8 L529.5,524.8 M523.2,546 L529.5,546" stroke="#000" stroke-width="1.9" fill="none"/><path d="M529.5,460 L529.5,563" stroke="#000" stroke-width="2.6" fill="none"/><path d="M531.8,600 L531.8,434 Q532,429.7 535,429.7 L540,429.7 Q542,430 542,434 L542,600" stroke="#000" stroke-width="1.9" fill="none"/><path d="M536.5,429.7 L536.5,600" stroke="#000" stroke-width="1.9" fill="none"/></g><g transform="translate(1527.0,0) scale(-1,1)"><path d="M489.7,410.8 L523.2,410.3 L523.2,984.7 L482,985.3 Q470,985.3 465,975 L447,930 Q444.5,924 444.5,914 L452.4,519 L454,475.7 L457.3,445.4 Q459,440 466.5,432.4 L466.5,423.2 Z" stroke="#000" stroke-width="2" fill="none"/><path d="M466.5,432.4 L472,437 L471.5,445 L464.7,915 L483.5,977" stroke="#000" stroke-width="1.9" fill="none"/><path d="M454.5,446 L449,914.7 Q449.5,922 451,927 L462.8,949.4 L481.6,977" stroke="#000" stroke-width="1.9" fill="none"/><path d="M459,444 L452.2,915 L455,930" stroke="#000" stroke-width="1.9" fill="none"/><path d="M462.5,442 L455.7,915 Q456.5,927 459.8,936.5 L465.8,947.4" stroke="#000" stroke-width="1.9" fill="none"/><path d="M466.5,440 L459.7,915 Q461,930 465.8,947.4 L483.6,977" stroke="#000" stroke-width="2.4" fill="none"/><path d="M489.7,410.8 Q495,425 496.5,439 L493.5,465 L484,977" stroke="#000" stroke-width="1.9" fill="none"/><path d="M493,410.8 Q498,425 499.8,439 L497.2,465 L488,977" stroke="#000" stroke-width="1.9" fill="none"/><path d="M474.5,437.3 L497,439 L523.2,437.3" stroke="#000" stroke-width="1.9" fill="none"/><path d="M471,461.5 L494,464.5 L523.2,463.8" stroke="#000" stroke-width="1.9" fill="none"/><path d="M523.2,476.8 L529.5,476.8 M523.2,498.4 L529.5,498.4 M523.2,503.8 L529.5,503.8 M523.2,519.5 L529.5,519.5 M523.2,524.8 L529.5,524.8 M523.2,546 L529.5,546" stroke="#000" stroke-width="1.9" fill="none"/><path d="M529.5,460 L529.5,563" stroke="#000" stroke-width="2.6" fill="none"/><path d="M531.8,600 L531.8,434 Q532,429.7 535,429.7 L540,429.7 Q542,430 542,434 L542,600" stroke="#000" stroke-width="1.9" fill="none"/><path d="M536.5,429.7 L536.5,600" stroke="#000" stroke-width="1.9" fill="none"/></g><path d="M1061.3,427.5 L1075.4,427.5 L1075.4,461 L1061.3,461" stroke="#000" stroke-width="1.9" fill="none"/><path d="M1069,430 L1069,458" stroke="#000" stroke-width="1.9" fill="none"/><path d="M523.6,793 L532.6,803.4 L626.2,898.5 Q636,907.4 650,907.4 L877.4,907.4 Q891,907.4 902.7,898.5 L994.8,803.4 L1003.7,793" stroke="#000" stroke-width="1.9" fill="none"/><path d="M532.6,808 L623,900 Q634,911 650,911 L877.4,911 Q893,911 904,900 L994.8,808" stroke="#000" stroke-width="1.9" fill="none"/><path d="M532.6,804.9 L532.6,867.3 Q532.6,872 540,876.2 L596.5,931.2 Q601,936.2 608.4,936.2 L920.5,936.2 Q927,936.2 932.4,931.2 L988.9,876.2 Q994.8,872 994.8,867.3 L994.8,804.9" stroke="#000" stroke-width="1.9" fill="none"/><path d="M537,808 L537,866 Q537,870 543,874 L599,928 Q603,932.5 609,932.5 L919.5,932.5 Q925,932.5 929.5,928 L985,874 Q990.5,870 990.5,866 L990.5,808" stroke="#000" stroke-width="1.9" fill="none"/><circle cx="541.8" cy="905" r="9.8" stroke="#000" stroke-width="2.4" fill="none"/><circle cx="541.8" cy="905" r="3.6" stroke="#000" stroke-width="2" fill="none"/><circle cx="985.3" cy="905" r="9.8" stroke="#000" stroke-width="2.4" fill="none"/><circle cx="985.3" cy="905" r="3.6" stroke="#000" stroke-width="2" fill="none"/><circle cx="574.8" cy="960.9" r="9.8" stroke="#000" stroke-width="2.4" fill="none"/><circle cx="574.8" cy="960.9" r="3.6" stroke="#000" stroke-width="2" fill="none"/><circle cx="952.5" cy="960.9" r="9.8" stroke="#000" stroke-width="2.4" fill="none"/><circle cx="952.5" cy="960.9" r="3.6" stroke="#000" stroke-width="2" fill="none"/><path d="M523.6,943 L1003.7,943" stroke="#000" stroke-width="2" fill="none"/><path d="M489.5,976.7 L1037.5,976.7" stroke="#000" stroke-width="1.9" fill="none"/><path d="M483.5,984.7 L1043.5,984.7" stroke="#000" stroke-width="2" fill="none"/><circle cx="824" cy="934" r="1.5" fill="#000"/><path d="M857,952.5 L857,963 L864,963 L864,952.5 Z M858.5,952.5 Q858.5,948 860.5,948 Q862.5,948 862.5,952.5" stroke="#000" stroke-width="1.9" fill="none"/><path d="M868,957 L874,953.5 L874,955.8 L902,955.8 L902,953.5 L908,957 L902,960.5 L902,958.2 L874,958.2 L874,960.5 Z" stroke="#000" stroke-width="1.9" fill="none"/><path d="M911,954.5 L911,964 L918,964 L918,954.5 Z M916.5,954.5 Q916.5,948 920.5,948 Q924,948 924,952" stroke="#000" stroke-width="1.9" fill="none"/><path d="M857,966.5 L938,966.5 L938,976 L857,976 Z" stroke="#000" stroke-width="1.9" fill="none"/><path d="M859,969.5 L905,969.5 M859,973 L905,973 M907,967 L907,976 M914,967 L914,976 M922,967 L922,976 M930,967 L930,976" stroke="#000" stroke-width="1.9" fill="none"/><path d="M700.5,984.7 L700.5,991.7 M826.6,984.7 L826.6,991.7" stroke="#000" stroke-width="1.9" fill="none"/><g><path d="M763.5,996 L636.7,996 L630,991.7 L562.6,991.7 L557,996 L546,996.6 L526,1012.7 L526,1139.5 Q526,1171.6 557.3,1171.6 L763.5,1171.6" stroke="#000" stroke-width="2.2" fill="none"/><path d="M557.3,1173 L763.5,1173" stroke="#000" stroke-width="3.2" fill="none"/><path d="M546.9,997 L546.9,1139 Q547.5,1148 557.3,1152" stroke="#000" stroke-width="1.9" fill="none"/><path d="M549.7,997 L549.7,1139 Q550.5,1146 558,1149" stroke="#000" stroke-width="1.9" fill="none"/><path d="M558.2,993 L558.2,1171.6" stroke="#000" stroke-width="1.9" fill="none"/><path d="M561,993 L561,1150" stroke="#000" stroke-width="1.9" fill="none"/><path d="M570.5,992 L570.5,1141 L578,1141 M572.4,992 L572.4,1141" stroke="#000" stroke-width="1.9" fill="none"/><path d="M624.4,992 L624.4,1141 L617,1141 M627.3,992 L627.3,1141 L636.7,1149 L763.5,1149" stroke="#000" stroke-width="1.9" fill="none"/><path d="M634.9,996 L634.9,1146 M636.7,996 L636.7,1149" stroke="#000" stroke-width="1.9" fill="none"/><path d="M526,1040 L546,1038.2 L652,1038.2" stroke="#000" stroke-width="1.9" fill="none"/><path d="M572.4,1141 L578,1146 L617,1146 L624.4,1141" stroke="#000" stroke-width="1.9" fill="none"/><circle cx="579" cy="1052.0" r="3.5" stroke="#000" stroke-width="1.9" fill="none"/><circle cx="579" cy="1061.9" r="3.5" stroke="#000" stroke-width="1.9" fill="none"/><circle cx="579" cy="1071.7" r="3.5" stroke="#000" stroke-width="1.9" fill="none"/><circle cx="579" cy="1081.6" r="3.5" stroke="#000" stroke-width="1.9" fill="none"/><circle cx="579" cy="1091.4" r="3.5" stroke="#000" stroke-width="1.9" fill="none"/><circle cx="579" cy="1101.3" r="3.5" stroke="#000" stroke-width="1.9" fill="none"/><circle cx="579" cy="1111.2" r="3.5" stroke="#000" stroke-width="1.9" fill="none"/><circle cx="579" cy="1121.0" r="3.5" stroke="#000" stroke-width="1.9" fill="none"/><circle cx="590.4" cy="1052.0" r="3.5" stroke="#000" stroke-width="1.9" fill="none"/><circle cx="590.4" cy="1061.9" r="3.5" stroke="#000" stroke-width="1.9" fill="none"/><circle cx="590.4" cy="1071.7" r="3.5" stroke="#000" stroke-width="1.9" fill="none"/><circle cx="590.4" cy="1081.6" r="3.5" stroke="#000" stroke-width="1.9" fill="none"/><circle cx="590.4" cy="1091.4" r="3.5" stroke="#000" stroke-width="1.9" fill="none"/><circle cx="590.4" cy="1101.3" r="3.5" stroke="#000" stroke-width="1.9" fill="none"/><circle cx="590.4" cy="1111.2" r="3.5" stroke="#000" stroke-width="1.9" fill="none"/><circle cx="590.4" cy="1121.0" r="3.5" stroke="#000" stroke-width="1.9" fill="none"/><circle cx="601.7" cy="1052.0" r="3.5" stroke="#000" stroke-width="1.9" fill="none"/><circle cx="601.7" cy="1061.9" r="3.5" stroke="#000" stroke-width="1.9" fill="none"/><circle cx="601.7" cy="1071.7" r="3.5" stroke="#000" stroke-width="1.9" fill="none"/><circle cx="601.7" cy="1081.6" r="3.5" stroke="#000" stroke-width="1.9" fill="none"/><circle cx="601.7" cy="1091.4" r="3.5" stroke="#000" stroke-width="1.9" fill="none"/><circle cx="601.7" cy="1101.3" r="3.5" stroke="#000" stroke-width="1.9" fill="none"/><circle cx="601.7" cy="1111.2" r="3.5" stroke="#000" stroke-width="1.9" fill="none"/><circle cx="601.7" cy="1121.0" r="3.5" stroke="#000" stroke-width="1.9" fill="none"/><circle cx="613.5" cy="1052.0" r="3.5" stroke="#000" stroke-width="1.9" fill="none"/><circle cx="613.5" cy="1061.9" r="3.5" stroke="#000" stroke-width="1.9" fill="none"/><circle cx="613.5" cy="1071.7" r="3.5" stroke="#000" stroke-width="1.9" fill="none"/><circle cx="613.5" cy="1081.6" r="3.5" stroke="#000" stroke-width="1.9" fill="none"/><circle cx="613.5" cy="1091.4" r="3.5" stroke="#000" stroke-width="1.9" fill="none"/><circle cx="613.5" cy="1101.3" r="3.5" stroke="#000" stroke-width="1.9" fill="none"/><circle cx="613.5" cy="1111.2" r="3.5" stroke="#000" stroke-width="1.9" fill="none"/><circle cx="613.5" cy="1121.0" r="3.5" stroke="#000" stroke-width="1.9" fill="none"/><path d="M563,1176.3 L602.7,1176.3 L600,1196.2 L566,1196.2 Z" stroke="#000" stroke-width="2" fill="none"/><path d="M524.2,1083 L509,1083.6 L509,1131.9 L524.2,1132.8" stroke="#000" stroke-width="2" fill="none"/><path d="M511.8,1083.6 L511.8,1131.9" stroke="#000" stroke-width="1.9" fill="none"/><path d="M509,1083.6 L454.2,1084.6 Q446.6,1090 446.6,1108 Q446.6,1126 454.2,1131 L509,1131.9" stroke="#000" stroke-width="2.1" fill="none"/><path d="M456.5,1085 Q450,1092 450,1108 Q450,1124 456.5,1130.5" stroke="#000" stroke-width="1.9" fill="none"/><path d="M454.2,1093.1 L509,1092.3 M454.2,1123.4 L509,1124.2" stroke="#000" stroke-width="1.9" fill="none"/><circle cx="604.3" cy="1156.3" r="9" stroke="#000" stroke-width="2.6" fill="none"/><circle cx="604.3" cy="1156.3" r="4" stroke="#000" stroke-width="1.9" fill="none"/></g><g transform="translate(1527.0,0) scale(-1,1)"><path d="M763.5,996 L636.7,996 L630,991.7 L562.6,991.7 L557,996 L546,996.6 L526,1012.7 L526,1139.5 Q526,1171.6 557.3,1171.6 L763.5,1171.6" stroke="#000" stroke-width="2.2" fill="none"/><path d="M557.3,1173 L763.5,1173" stroke="#000" stroke-width="3.2" fill="none"/><path d="M546.9,997 L546.9,1139 Q547.5,1148 557.3,1152" stroke="#000" stroke-width="1.9" fill="none"/><path d="M549.7,997 L549.7,1139 Q550.5,1146 558,1149" stroke="#000" stroke-width="1.9" fill="none"/><path d="M558.2,993 L558.2,1171.6" stroke="#000" stroke-width="1.9" fill="none"/><path d="M561,993 L561,1150" stroke="#000" stroke-width="1.9" fill="none"/><path d="M570.5,992 L570.5,1141 L578,1141 M572.4,992 L572.4,1141" stroke="#000" stroke-width="1.9" fill="none"/><path d="M624.4,992 L624.4,1141 L617,1141 M627.3,992 L627.3,1141 L636.7,1149 L763.5,1149" stroke="#000" stroke-width="1.9" fill="none"/><path d="M634.9,996 L634.9,1146 M636.7,996 L636.7,1149" stroke="#000" stroke-width="1.9" fill="none"/><path d="M526,1040 L546,1038.2 L652,1038.2" stroke="#000" stroke-width="1.9" fill="none"/><path d="M572.4,1141 L578,1146 L617,1146 L624.4,1141" stroke="#000" stroke-width="1.9" fill="none"/><circle cx="579" cy="1052.0" r="3.5" stroke="#000" stroke-width="1.9" fill="none"/><circle cx="579" cy="1061.9" r="3.5" stroke="#000" stroke-width="1.9" fill="none"/><circle cx="579" cy="1071.7" r="3.5" stroke="#000" stroke-width="1.9" fill="none"/><circle cx="579" cy="1081.6" r="3.5" stroke="#000" stroke-width="1.9" fill="none"/><circle cx="579" cy="1091.4" r="3.5" stroke="#000" stroke-width="1.9" fill="none"/><circle cx="579" cy="1101.3" r="3.5" stroke="#000" stroke-width="1.9" fill="none"/><circle cx="579" cy="1111.2" r="3.5" stroke="#000" stroke-width="1.9" fill="none"/><circle cx="579" cy="1121.0" r="3.5" stroke="#000" stroke-width="1.9" fill="none"/><circle cx="590.4" cy="1052.0" r="3.5" stroke="#000" stroke-width="1.9" fill="none"/><circle cx="590.4" cy="1061.9" r="3.5" stroke="#000" stroke-width="1.9" fill="none"/><circle cx="590.4" cy="1071.7" r="3.5" stroke="#000" stroke-width="1.9" fill="none"/><circle cx="590.4" cy="1081.6" r="3.5" stroke="#000" stroke-width="1.9" fill="none"/><circle cx="590.4" cy="1091.4" r="3.5" stroke="#000" stroke-width="1.9" fill="none"/><circle cx="590.4" cy="1101.3" r="3.5" stroke="#000" stroke-width="1.9" fill="none"/><circle cx="590.4" cy="1111.2" r="3.5" stroke="#000" stroke-width="1.9" fill="none"/><circle cx="590.4" cy="1121.0" r="3.5" stroke="#000" stroke-width="1.9" fill="none"/><circle cx="601.7" cy="1052.0" r="3.5" stroke="#000" stroke-width="1.9" fill="none"/><circle cx="601.7" cy="1061.9" r="3.5" stroke="#000" stroke-width="1.9" fill="none"/><circle cx="601.7" cy="1071.7" r="3.5" stroke="#000" stroke-width="1.9" fill="none"/><circle cx="601.7" cy="1081.6" r="3.5" stroke="#000" stroke-width="1.9" fill="none"/><circle cx="601.7" cy="1091.4" r="3.5" stroke="#000" stroke-width="1.9" fill="none"/><circle cx="601.7" cy="1101.3" r="3.5" stroke="#000" stroke-width="1.9" fill="none"/><circle cx="601.7" cy="1111.2" r="3.5" stroke="#000" stroke-width="1.9" fill="none"/><circle cx="601.7" cy="1121.0" r="3.5" stroke="#000" stroke-width="1.9" fill="none"/><circle cx="613.5" cy="1052.0" r="3.5" stroke="#000" stroke-width="1.9" fill="none"/><circle cx="613.5" cy="1061.9" r="3.5" stroke="#000" stroke-width="1.9" fill="none"/><circle cx="613.5" cy="1071.7" r="3.5" stroke="#000" stroke-width="1.9" fill="none"/><circle cx="613.5" cy="1081.6" r="3.5" stroke="#000" stroke-width="1.9" fill="none"/><circle cx="613.5" cy="1091.4" r="3.5" stroke="#000" stroke-width="1.9" fill="none"/><circle cx="613.5" cy="1101.3" r="3.5" stroke="#000" stroke-width="1.9" fill="none"/><circle cx="613.5" cy="1111.2" r="3.5" stroke="#000" stroke-width="1.9" fill="none"/><circle cx="613.5" cy="1121.0" r="3.5" stroke="#000" stroke-width="1.9" fill="none"/><path d="M563,1176.3 L602.7,1176.3 L600,1196.2 L566,1196.2 Z" stroke="#000" stroke-width="2" fill="none"/><path d="M524.2,1083 L509,1083.6 L509,1131.9 L524.2,1132.8" stroke="#000" stroke-width="2" fill="none"/><path d="M511.8,1083.6 L511.8,1131.9" stroke="#000" stroke-width="1.9" fill="none"/><path d="M509,1083.6 L454.2,1084.6 Q446.6,1090 446.6,1108 Q446.6,1126 454.2,1131 L509,1131.9" stroke="#000" stroke-width="2.1" fill="none"/><path d="M456.5,1085 Q450,1092 450,1108 Q450,1124 456.5,1130.5" stroke="#000" stroke-width="1.9" fill="none"/><path d="M454.2,1093.1 L509,1092.3 M454.2,1123.4 L509,1124.2" stroke="#000" stroke-width="1.9" fill="none"/><circle cx="604.3" cy="1156.3" r="9" stroke="#000" stroke-width="2.6" fill="none"/><circle cx="604.3" cy="1156.3" r="4" stroke="#000" stroke-width="1.9" fill="none"/></g><circle cx="925.3" cy="1052.0" r="3.5" fill="#000"/><circle cx="925.3" cy="1061.9" r="3.5" fill="#000"/><circle cx="925.3" cy="1071.7" r="3.5" fill="#000"/><circle cx="925.3" cy="1081.6" r="3.5" fill="#000"/><circle cx="925.3" cy="1091.4" r="3.5" fill="#000"/><circle cx="925.3" cy="1101.3" r="3.5" fill="#000"/><circle cx="925.3" cy="1111.2" r="3.5" fill="#000"/><circle cx="925.3" cy="1121.0" r="3.5" fill="#000"/><circle cx="936.6" cy="1052.0" r="3.5" fill="#000"/><circle cx="948" cy="1052.0" r="3.5" fill="#000"/><rect x="650.9" y="1034.4" width="225.3" height="106.2" rx="18" stroke="#000" stroke-width="3.6" fill="none"/><rect x="697.9" y="1056.2" width="83.1" height="61.6" stroke="#000" stroke-width="2.2" fill="none"/><circle cx="801.9" cy="1056.7" r="8.3" stroke="#000" stroke-width="3" fill="none"/><circle cx="801.9" cy="1056.7" r="3.2" stroke="#000" stroke-width="1.9" fill="none"/><circle cx="825.8" cy="1065.3" r="8.3" stroke="#000" stroke-width="3" fill="none"/><circle cx="825.8" cy="1065.3" r="3.2" stroke="#000" stroke-width="1.9" fill="none"/><circle cx="801.9" cy="1089.2" r="8.3" stroke="#000" stroke-width="3" fill="none"/><circle cx="801.9" cy="1089.2" r="3.2" stroke="#000" stroke-width="1.9" fill="none"/><circle cx="825.8" cy="1089.2" r="8.3" stroke="#000" stroke-width="3" fill="none"/><circle cx="825.8" cy="1089.2" r="3.2" stroke="#000" stroke-width="1.9" fill="none"/><circle cx="850" cy="1089.2" r="8.3" stroke="#000" stroke-width="3" fill="none"/><circle cx="850" cy="1089.2" r="3.2" stroke="#000" stroke-width="1.9" fill="none"/><circle cx="825.8" cy="1113.2" r="8.3" stroke="#000" stroke-width="3" fill="none"/><circle cx="825.8" cy="1113.2" r="3.2" stroke="#000" stroke-width="1.9" fill="none"/><text x="804" y="1131.2" font-size="10.6" font-weight="bold" fill="#000" textLength="57.5" lengthAdjust="spacingAndGlyphs">G22H NOVA</text><text x="677" y="1134.5" font-size="12" font-weight="bold" fill="#000" textLength="111" lengthAdjust="spacingAndGlyphs">CE ⌂ ⧗ ⊛⊙ ◁ ⊢⊣</text><text x="712" y="1052" font-size="5" fill="#000">ᵃ ⋖ ⋰ ›  ›  ı</text><path d="M824,1053 Q830,1044 840,1043 L856,1043" stroke="#000" stroke-width="1.9" fill="none"/><text x="832" y="1052" font-size="9" font-weight="bold" fill="#000">ERlu</text></g>
<path d="M863,1175 L863,1186 Q863,1189 866,1189 L913,1189 Q916,1189 916,1186 L916,1175" stroke="#000" stroke-width="1.9" fill="none"/>
<path d="M872,1175 L872,1180 Q872,1182 874,1182 L905,1182 Q907,1182 907,1180 L907,1175" stroke="#000" stroke-width="1.9" fill="none"/>
<path d="M1443,361 L1402.7,365.1 L1362.3,383 L1362.3,676.5 L1404.3,694.1 L1443,699.6" stroke="#000" stroke-width="2.2" fill="none"/>
<path d="M1403.5,366 L1403.5,694.5 M1406.8,366 L1406.8,695" stroke="#000" stroke-width="1.9" fill="none"/>
<path d="M1402,430 L1408,430 M1402,540 L1408,540 M1402,620 L1408,620" stroke="#000" stroke-width="1.9" fill="none"/>
<path d="M1443,361 L1443,699.6" stroke="#000" stroke-width="3" fill="none"/>
<path d="M1443,361 L1823.8,342 L1877.3,343.7 L1917.4,348 L2050,381 Q2082,392 2084.4,423.5 L2084.4,636 Q2082,668 2049,676 L1915.7,707.7 L1852.5,711.2 L1619,709 L1443,699.6" stroke="#000" stroke-width="2.2" fill="none"/>
<path d="M2080,425 L2080,634" stroke="#000" stroke-width="1.9" fill="none"/>
<path d="M2086,442 L2091,442 L2091,618 L2086,618" stroke="#000" stroke-width="1.9" fill="none"/>
<path d="M1445.6,377.3 L1849,352.8 Q1858,354 1850,362 L1808,398 Q1803,402 1795,402.3 L1527,414.3 Q1518,414.5 1510,406 L1480,381 Q1470,373 1460,375" stroke="#000" stroke-width="1.9" fill="none"/>
<path d="M1466,380 Q1474,380 1482,386 L1512,409 Q1520,417.5 1529,417.5 L1796,405.5 Q1806,405 1812,400 L1852,366" stroke="#000" stroke-width="1.9" fill="none"/>
<path d="M1444.9,436 L1835,416.5 L1929.8,421.4 L1955,427 Q1970,430 1985,429 Q1995,428 2006,420 L2066.8,395" stroke="#000" stroke-width="1.9" fill="none"/>
<path d="M1444.9,440 L1835,420.5 L1929.8,425.4 L1955,431 Q1970,434 1985,433 Q1997,432 2008,424 L2068,400" stroke="#000" stroke-width="1.9" fill="none"/>
<path d="M1445,675.8 Q1455,675 1461.4,673 L1490,656 Q1503,646 1524,642.5 L1619.7,646.6" stroke="#000" stroke-width="1.9" fill="none"/>
<path d="M1445,679.5 Q1458,679 1465,676 L1494,659 Q1507,650 1525.3,648 L1619.7,650.7" stroke="#000" stroke-width="1.9" fill="none"/>
<path d="M1445,681.2 L1619,692.8 M1445,684.5 L1619,696" stroke="#000" stroke-width="1.9" fill="none"/>
<path d="M1418,694.8 L1432.9,678.5 L1443,678.5" stroke="#000" stroke-width="1.9" fill="none"/>
<path d="M1452,700 L1470,688 M1456,700.5 L1474,689" stroke="#000" stroke-width="1.9" fill="none"/>
<path d="M1817,639.2 L1929.8,635.7 L1955,632 Q1970,629 1985,630 Q1997,632 2007,639.2 L2066.8,658.5" stroke="#000" stroke-width="1.9" fill="none"/>
<path d="M1817,643 L1929.8,639.7 L1955,636 Q1970,633 1985,634 Q1995,636 2005,643 L2064,662" stroke="#000" stroke-width="1.9" fill="none"/>
<path d="M1817,672.6 L1840,695 Q1850,705 1862,705 L1915.7,703.5 L2049,672" stroke="#000" stroke-width="1.9" fill="none"/>
<path d="M1516,703 L1566,706" stroke="#000" stroke-width="4.5" fill="none"/>
<path d="M1533,354.5 L1584,353" stroke="#000" stroke-width="4.5" fill="none"/>
<path d="M1486.0,439.2 Q1486.0,437.2 1488.0,437.2 L1497.5,437.2 Q1499.5,437.2 1499.5,439.2 L1499.5,516 Q1499.5,518 1497.5,518 L1488.0,518 Q1486.0,518 1486.0,516 Z" stroke="#000" stroke-width="1.9" fill="none"/>
<path d="M1497.0,439.2 Q1492.0,477.6 1490.0,516" stroke="#000" stroke-width="1.9" fill="none"/>
<path d="M1505.7,439.2 Q1505.7,437.2 1507.7,437.2 L1517.2,437.2 Q1519.2,437.2 1519.2,439.2 L1519.2,516 Q1519.2,518 1517.2,518 L1507.7,518 Q1505.7,518 1505.7,516 Z" stroke="#000" stroke-width="1.9" fill="none"/>
<path d="M1516.7,439.2 Q1511.7,477.6 1509.7,516" stroke="#000" stroke-width="1.9" fill="none"/>
<path d="M1525.4,439.2 Q1525.4,437.2 1527.4,437.2 L1536.9,437.2 Q1538.9,437.2 1538.9,439.2 L1538.9,516 Q1538.9,518 1536.9,518 L1527.4,518 Q1525.4,518 1525.4,516 Z" stroke="#000" stroke-width="1.9" fill="none"/>
<path d="M1536.4,439.2 Q1531.4,477.6 1529.4,516" stroke="#000" stroke-width="1.9" fill="none"/>
<path d="M1545.1,439.2 Q1545.1,437.2 1547.1,437.2 L1556.6,437.2 Q1558.6,437.2 1558.6,439.2 L1558.6,516 Q1558.6,518 1556.6,518 L1547.1,518 Q1545.1,518 1545.1,516 Z" stroke="#000" stroke-width="1.9" fill="none"/>
<path d="M1556.1,439.2 Q1551.1,477.6 1549.1,516" stroke="#000" stroke-width="1.9" fill="none"/>
<path d="M1564.8,439.2 Q1564.8,437.2 1566.8,437.2 L1576.3,437.2 Q1578.3,437.2 1578.3,439.2 L1578.3,516 Q1578.3,518 1576.3,518 L1566.8,518 Q1564.8,518 1564.8,516 Z" stroke="#000" stroke-width="1.9" fill="none"/>
<path d="M1575.8,439.2 Q1570.8,477.6 1568.8,516" stroke="#000" stroke-width="1.9" fill="none"/>
<path d="M1584.5,439.2 Q1584.5,437.2 1586.5,437.2 L1596.0,437.2 Q1598.0,437.2 1598.0,439.2 L1598.0,516 Q1598.0,518 1596.0,518 L1586.5,518 Q1584.5,518 1584.5,516 Z" stroke="#000" stroke-width="1.9" fill="none"/>
<path d="M1595.5,439.2 Q1590.5,477.6 1588.5,516" stroke="#000" stroke-width="1.9" fill="none"/>
<path d="M1486.0,542.8 Q1486.0,540.8 1488.0,540.8 L1497.5,540.8 Q1499.5,540.8 1499.5,542.8 L1499.5,621.5 Q1499.5,623.5 1497.5,623.5 L1488.0,623.5 Q1486.0,623.5 1486.0,621.5 Z" stroke="#000" stroke-width="1.9" fill="none"/>
<path d="M1490.0,542.8 Q1494.0,582.1 1496.5,621.5" stroke="#000" stroke-width="1.9" fill="none"/>
<path d="M1505.7,542.8 Q1505.7,540.8 1507.7,540.8 L1517.2,540.8 Q1519.2,540.8 1519.2,542.8 L1519.2,621.5 Q1519.2,623.5 1517.2,623.5 L1507.7,623.5 Q1505.7,623.5 1505.7,621.5 Z" stroke="#000" stroke-width="1.9" fill="none"/>
<path d="M1509.7,542.8 Q1513.7,582.1 1516.2,621.5" stroke="#000" stroke-width="1.9" fill="none"/>
<path d="M1525.4,542.8 Q1525.4,540.8 1527.4,540.8 L1536.9,540.8 Q1538.9,540.8 1538.9,542.8 L1538.9,621.5 Q1538.9,623.5 1536.9,623.5 L1527.4,623.5 Q1525.4,623.5 1525.4,621.5 Z" stroke="#000" stroke-width="1.9" fill="none"/>
<path d="M1529.4,542.8 Q1533.4,582.1 1535.9,621.5" stroke="#000" stroke-width="1.9" fill="none"/>
<path d="M1545.1,542.8 Q1545.1,540.8 1547.1,540.8 L1556.6,540.8 Q1558.6,540.8 1558.6,542.8 L1558.6,621.5 Q1558.6,623.5 1556.6,623.5 L1547.1,623.5 Q1545.1,623.5 1545.1,621.5 Z" stroke="#000" stroke-width="1.9" fill="none"/>
<path d="M1549.1,542.8 Q1553.1,582.1 1555.6,621.5" stroke="#000" stroke-width="1.9" fill="none"/>
<path d="M1564.8,542.8 Q1564.8,540.8 1566.8,540.8 L1576.3,540.8 Q1578.3,540.8 1578.3,542.8 L1578.3,621.5 Q1578.3,623.5 1576.3,623.5 L1566.8,623.5 Q1564.8,623.5 1564.8,621.5 Z" stroke="#000" stroke-width="1.9" fill="none"/>
<path d="M1568.8,542.8 Q1572.8,582.1 1575.3,621.5" stroke="#000" stroke-width="1.9" fill="none"/>
<path d="M1584.5,542.8 Q1584.5,540.8 1586.5,540.8 L1596.0,540.8 Q1598.0,540.8 1598.0,542.8 L1598.0,621.5 Q1598.0,623.5 1596.0,623.5 L1586.5,623.5 Q1584.5,623.5 1584.5,621.5 Z" stroke="#000" stroke-width="1.9" fill="none"/>
<path d="M1588.5,542.8 Q1592.5,582.1 1595.0,621.5" stroke="#000" stroke-width="1.9" fill="none"/>
<path d="M1622.9,479.5 Q1626,455 1649.6,445.8 Q1680,431 1717,428.9 Q1760,431 1784.4,445.8 Q1810,458 1814.2,479.5 L1822.4,997 L1615.8,997 Z" fill="#fff" stroke="#000" stroke-width="2.4"/>
<path d="M1626,479.5 Q1630,462 1642.7,454.7 M1811,479.5 Q1806,462 1796.3,455.7" stroke="#000" stroke-width="1.9" fill="none"/>
<path d="M1634.5,944 L1636,480 Q1637,460 1652,453 Q1685,440.5 1717,440 Q1750,440.5 1784,453 Q1799,460 1800,480 L1800,944" stroke="#000" stroke-width="1.9" fill="none"/>
<path d="M1639.5,944 L1641,482 Q1642,465 1655,458 Q1686,446 1717,445.5 Q1749,446 1781,458 Q1794,465 1795,482 L1795,944" stroke="#000" stroke-width="1.9" fill="none"/>
<path d="M1626,480 L1636,481 M1800,480 L1811,479" stroke="#000" stroke-width="1.9" fill="none"/>
<path d="M1653,944 L1655.5,478 Q1657,461 1671.4,451.7 M1657.5,944 L1659.5,479 Q1661,463 1674,455" stroke="#000" stroke-width="1.9" fill="none"/>
<path d="M1663.3,944 L1665,485 Q1666,470 1675,462 M1669,944 L1670,490" stroke="#000" stroke-width="1.9" fill="none"/>
<path d="M1774.3,944 L1772,485 Q1771,470 1762,462 M1768.5,944 L1767,490" stroke="#000" stroke-width="1.9" fill="none"/>
<path d="M1783,944 L1781,478 Q1779,461 1764.6,451.7 M1778.5,944 L1776.5,479 Q1775,463 1762,455" stroke="#000" stroke-width="1.9" fill="none"/>
<path d="M1671.4,451.7 L1687.3,487.4 Q1689,489.4 1693.3,489.4 L1746.8,489.4 Q1750,489.4 1752,487 L1764.6,451.7" stroke="#000" stroke-width="1.9" fill="none"/>
<path d="M1675,451 L1690,484.5 L1749,484.5 L1761,451" stroke="#000" stroke-width="1.9" fill="none"/>
<rect x="1710" y="445.8" width="17" height="35.6" rx="3" stroke="#000" stroke-width="1.9" fill="#fff"/>
<path d="M1710,453.7 L1702,453.7 Q1699.2,453.7 1699.2,457 L1699.2,468 Q1699.2,471.5 1702,471.5 L1710,471.5 M1727,453.7 L1736,453.7 Q1738.8,453.7 1738.8,457 L1738.8,468 Q1738.8,471.5 1736,471.5 L1727,471.5" stroke="#000" stroke-width="1.9" fill="none"/>
<path d="M1678,499 Q1680,494 1686,494.5 Q1691,495 1693.5,497 M1685.3,498.3 L1695.2,498.3 L1695.2,505.2 L1685.3,505.2 Z M1759.5,499 Q1757.5,494 1752,494.5 Q1747,495 1744,497 M1741.8,498.3 L1751.7,498.3 L1751.7,505.2 L1741.8,505.2 Z" stroke="#000" stroke-width="1.9" fill="none"/>
<path d="M1686,510 L1690,514 M1752,510 L1748,514" stroke="#000" stroke-width="1.9" fill="none"/>
<path d="M1686,514 Q1695,522 1707,524 M1752,514 Q1743,522 1731,524" stroke="#000" stroke-width="1.9" fill="none"/>
<path d="M1713.5,525 L1713.5,516 Q1713.5,512 1719,512 Q1724.5,512 1724.5,516 L1724.5,525 Z" stroke="#000" stroke-width="1.9" fill="none"/>
<ellipse cx="1719" cy="591.8" rx="33.4" ry="62.4" stroke="#000" stroke-width="2" fill="none"/>
<path d="M1697,558 L1718,555 L1718,558 L1697,567 Z" stroke="#000" stroke-width="1.9" fill="#000"/>
<path d="M1712,540 Q1728,552 1729,575" stroke="#000" stroke-width="2" fill="none"/>
<text x="0" y="0" transform="translate(1707,567) rotate(90)" font-size="27" font-weight="bold" fill="#fff" stroke="#000" stroke-width="1.9" textLength="72" lengthAdjust="spacingAndGlyphs">ERbLJ</text>
<path d="M1717,567 L1717,640" stroke="#000" stroke-width="2.5" fill="none"/>
<circle cx="1734" cy="640" r="2.2" fill="#000"/>
<circle cx="1674.4" cy="609.3" r="10" stroke="#000" stroke-width="2.4" fill="#fff"/>
<circle cx="1674.4" cy="609.3" r="4" stroke="#000" stroke-width="1.9" fill="none"/>
<circle cx="1762.6" cy="609.3" r="10" stroke="#000" stroke-width="2.4" fill="#fff"/>
<circle cx="1762.6" cy="609.3" r="4" stroke="#000" stroke-width="1.9" fill="none"/>
<path d="M1663.3,933.7 L1774.3,933.7 M1663.3,944.6 L1774.3,944.6" stroke="#000" stroke-width="1.9" fill="none"/>
<path d="M1634.5,944 L1634.5,956.7 Q1634.5,966 1645,966 L1652,966 Q1662,966 1666,955 L1669,944" stroke="#000" stroke-width="1.9" fill="none"/>
<path d="M1774.3,944 L1776,955 Q1780,966 1790,966 L1797,966 Q1800,966 1800,956.7 L1800,944" stroke="#000" stroke-width="1.9" fill="none"/>
<path d="M1634.5,956.7 L1621,994 M1640,958 L1626,995 M1800,956.7 L1816,994 M1795,958 L1811,995" stroke="#000" stroke-width="1.9" fill="none"/>
<path d="M1640,993 L1800,993 Q1802,997 1805,997" stroke="#000" stroke-width="1.9" fill="none"/>
<path d="M1574,982.7 L1612.9,982.7 L1612.9,994.2 L1574,994.2 Z M1583,982.7 L1583,994.2" stroke="#000" stroke-width="1.9" fill="none"/>
<path d="M1655.7,997 L1655.7,1010 M1782.2,997 L1782.2,1010" stroke="#000" stroke-width="1.9" fill="none"/>
<path d="M1537.8,1009.9 L1898.9,1009.9 Q1943,1012 1950.8,1052.7 L1966,1152 L1966,1160.8 L1945,1190 L1492.4,1190 L1470.8,1160.8 L1470.8,1152 L1486,1052.7 Q1494,1012 1537.8,1009.9 Z" stroke="#000" stroke-width="2.2" fill="none"/>
<path d="M1538,1013.8 L1898.9,1013.8" stroke="#000" stroke-width="1.9" fill="none"/>
<path d="M1538,1030 L1898.9,1030 M1538,1033.2 L1898.9,1033.2" stroke="#000" stroke-width="1.9" fill="none"/>
<path d="M1537.8,1009.9 L1537.8,1033 M1898.9,1009.9 L1898.9,1033" stroke="#000" stroke-width="1.9" fill="none"/>
<path d="M1537.8,1033.2 Q1512,1035 1506.5,1057 L1492.4,1156.5 L1945,1156.5 L1930.5,1057 Q1925,1035 1898.9,1033.2" stroke="#000" stroke-width="1.9" fill="none"/>
<path d="M1537.8,1013.8 Q1497,1017 1490,1053 L1475,1157 L1492.4,1190 M1898.9,1013.8 Q1940,1017 1947,1053 L1962,1157 L1945,1190" stroke="#000" stroke-width="1.9" fill="none"/>
<path d="M1486,1052.7 L1506.5,1054 M1950.8,1052.7 L1930.5,1054" stroke="#000" stroke-width="1.9" fill="none"/>
<path d="M1470.8,1160.8 L1492.4,1156.5 M1966,1160.8 L1945,1156.5" stroke="#000" stroke-width="1.9" fill="none"/>
<path d="M1492.4,1191 L1945,1191" stroke="#000" stroke-width="3.2" fill="none"/>
<path d="M1496.8,1194.3 L1536.8,1194.3 L1532.5,1214.9 L1500.5,1214.9 Z M1901,1194.3 L1941,1194.3 L1937.5,1214.9 L1905,1214.9 Z" stroke="#000" stroke-width="2" fill="none"/>
<path d="M1772.4,1193 L1772.4,1207.3 L1780,1207.3 L1780,1193 M1772.4,1202 L1780,1202" stroke="#000" stroke-width="1.9" fill="none"/>
<path d="M1578.5,1099 L1578.5,1080 Q1578.5,1073.2 1586,1073.2 L1636,1073.2 Q1643.8,1073.2 1643.8,1066 L1643.8,1048 Q1643.8,1040.8 1651,1040.8 L1786,1040.8 Q1793,1040.8 1793,1048 L1793,1066 Q1793,1073.2 1800,1073.2 L1851,1073.2 Q1858.5,1073.2 1858.5,1080 L1858.5,1099" stroke="#000" stroke-width="3" fill="none"/>
<path d="M1647.5,1046 L1647.5,1068 Q1647.5,1076.5 1656,1076.5 L1781,1076.5 Q1789,1076.5 1789,1068 L1789,1046" stroke="#000" stroke-width="2" fill="none"/>
<path d="M1578.5,1152 L1578.5,1184.6 L1858.5,1184.6 L1858.5,1152" stroke="#000" stroke-width="3" fill="none"/>
<circle cx="1656.8" cy="1052.7" r="9.5" stroke="#000" stroke-width="2.4" fill="#fff"/>
<circle cx="1781" cy="1052.7" r="9.5" stroke="#000" stroke-width="2.4" fill="#fff"/>
<rect x="1528" y="1099.2" width="381.7" height="53" rx="9" stroke="#000" stroke-width="3.2" fill="#fff"/>
<rect x="1536.8" y="1104.6" width="364.2" height="42.2" rx="3" stroke="#000" stroke-width="2" fill="none"/>
<circle cx="1554.5" cy="1125.8" r="15.2" stroke="#000" stroke-width="2.4" fill="none"/>
<circle cx="1554.5" cy="1125.8" r="10.5" stroke="#000" stroke-width="1.9" fill="none"/>
<circle cx="1554.5" cy="1125.8" r="4.6" stroke="#000" stroke-width="2.6" fill="none"/>
<circle cx="1882.7" cy="1125.8" r="15.2" stroke="#000" stroke-width="2.4" fill="none"/>
<circle cx="1882.7" cy="1125.8" r="10.5" stroke="#000" stroke-width="1.9" fill="none"/>
<circle cx="1882.7" cy="1125.8" r="4.6" stroke="#000" stroke-width="2.6" fill="none"/>
<rect x="1673.0" y="1079.7" width="9.6" height="22.7" rx="2" stroke="#000" stroke-width="1.9" fill="none"/>
<rect x="1673.0" y="1151" width="9.6" height="18.5" rx="2" stroke="#000" stroke-width="1.9" fill="none"/>
<rect x="1689.4" y="1079.7" width="9.6" height="22.7" rx="2" stroke="#000" stroke-width="1.9" fill="none"/>
<rect x="1689.4" y="1151" width="9.6" height="18.5" rx="2" stroke="#000" stroke-width="1.9" fill="none"/>
<rect x="1705.8" y="1079.7" width="9.6" height="22.7" rx="2" stroke="#000" stroke-width="1.9" fill="none"/>
<rect x="1705.8" y="1151" width="9.6" height="18.5" rx="2" stroke="#000" stroke-width="1.9" fill="none"/>
<rect x="1722.2" y="1079.7" width="9.6" height="22.7" rx="2" stroke="#000" stroke-width="1.9" fill="none"/>
<rect x="1722.2" y="1151" width="9.6" height="18.5" rx="2" stroke="#000" stroke-width="1.9" fill="none"/>
<rect x="1738.6" y="1079.7" width="9.6" height="22.7" rx="2" stroke="#000" stroke-width="1.9" fill="none"/>
<rect x="1738.6" y="1151" width="9.6" height="18.5" rx="2" stroke="#000" stroke-width="1.9" fill="none"/>
<rect x="1755.0" y="1079.7" width="9.6" height="22.7" rx="2" stroke="#000" stroke-width="1.9" fill="none"/>
<rect x="1755.0" y="1151" width="9.6" height="18.5" rx="2" stroke="#000" stroke-width="1.9" fill="none"/>
<circle cx="1610.3" cy="1173.8" r="8.3" stroke="#000" stroke-width="2.6" fill="none"/>
<circle cx="1610.3" cy="1173.8" r="3.2" stroke="#000" stroke-width="1.9" fill="none"/>
<circle cx="1827" cy="1173.8" r="8.3" stroke="#000" stroke-width="2.6" fill="none"/>
<circle cx="1827" cy="1173.8" r="3.2" stroke="#000" stroke-width="1.9" fill="none"/>
<g><path d="M2850.7,233.8 L2705,233.8 L2675.8,276.7 L2666.6,315 L2648.6,390 L2632.8,507 L2621.5,660 L2617,795.5 L2618,826 Q2620,860 2648,880 L2710,948 Q2716,957.5 2728,957.5 L2850.7,957.5" stroke="#000" stroke-width="2.2" fill="none"/><path d="M2721.8,233.8 L2694.2,276.7 L2683.5,315 L2664.3,390 L2639.5,525 L2632,660 L2628.3,795.5 L2628,826 Q2630,855 2655,874 L2716,942 Q2721,950 2730,951" stroke="#000" stroke-width="1.9" fill="none"/><path d="M2761.6,233.8 L2743.2,276.7 L2735.6,315 L2738,330" stroke="#000" stroke-width="1.9" fill="none"/><path d="M2675.8,276.7 L2850.7,276.7 M2674,279.7 L2850.7,279.7" stroke="#000" stroke-width="1.9" fill="none"/><path d="M2666.6,315 L2850.7,315" stroke="#000" stroke-width="3.2" fill="none"/><path d="M2749.3,315 L2749.3,304.2 Q2800,290 2850.7,289" stroke="#000" stroke-width="2" fill="none"/><path d="M2746.3,342.5 Q2800,322 2850.7,319.5" stroke="#000" stroke-width="1.9" fill="none"/><path d="M2745,347 Q2800,326.5 2850.7,324" stroke="#000" stroke-width="1.9" fill="none"/><path d="M2745,331 Q2710,340 2693.6,363 Q2684,376 2680,392 L2647,652 Q2647,664 2657.6,678.4 L2695.9,719 Q2700.4,726 2700.4,735 L2700.4,752" stroke="#000" stroke-width="1.9" fill="none"/><path d="M2745,336 Q2714,345 2698,367 Q2689,380 2685,395 L2652,652 Q2652,662 2662,674 L2700,714 Q2705,721 2705,731 L2705,750" stroke="#000" stroke-width="1.9" fill="none"/><path d="M2689,370 Q2680,382 2676,394 L2643,652" stroke="#000" stroke-width="1.9" fill="none"/><path d="M2745,331 Q2732,520 2713,752" stroke="#000" stroke-width="1.9" fill="none"/><path d="M2742,334 Q2727,520 2709,750" stroke="#000" stroke-width="1.9" fill="none"/><path d="M2707,346 L2713,357 M2694,362 L2703,370" stroke="#000" stroke-width="1.9" fill="none"/><path d="M2656.8,365.0 L2664.8,359.0" stroke="#000" stroke-width="1.9" fill="none"/><path d="M2654.5,374.5 L2662.5,368.5" stroke="#000" stroke-width="1.9" fill="none"/><path d="M2652.2,384.0 L2660.2,378.0" stroke="#000" stroke-width="1.9" fill="none"/><path d="M2650.0,393.5 L2658.0,387.5" stroke="#000" stroke-width="1.9" fill="none"/><path d="M2648.5,403.0 L2656.5,397.0" stroke="#000" stroke-width="1.9" fill="none"/><path d="M2647.2,412.5 L2655.2,406.5" stroke="#000" stroke-width="1.9" fill="none"/><path d="M2646.0,422.0 L2654.0,416.0" stroke="#000" stroke-width="1.9" fill="none"/><path d="M2644.7,431.5 L2652.7,425.5" stroke="#000" stroke-width="1.9" fill="none"/><path d="M2643.4,441.0 L2651.4,435.0" stroke="#000" stroke-width="1.9" fill="none"/><path d="M2642.1,450.5 L2650.1,444.5" stroke="#000" stroke-width="1.9" fill="none"/><path d="M2640.8,460.0 L2648.8,454.0" stroke="#000" stroke-width="1.9" fill="none"/><path d="M2639.5,469.5 L2647.5,463.5" stroke="#000" stroke-width="1.9" fill="none"/><path d="M2656,358 L2668,358 L2652,471 L2640,471 Z" stroke="#000" stroke-width="1.9" fill="none"/><path d="M2703,760 Q2710,840 2723.4,922.9 L2723,955" stroke="#000" stroke-width="1.9" fill="none"/><path d="M2707,760 Q2714,840 2727,920" stroke="#000" stroke-width="1.9" fill="none"/><path d="M2702,788.5 L2850.7,788.5" stroke="#000" stroke-width="1.9" fill="none"/><path d="M2723.4,922.9 L2850.7,922.9" stroke="#000" stroke-width="1.9" fill="none"/><path d="M2722,957.5 L2850.7,957.5" stroke="#000" stroke-width="3" fill="none"/><path d="M2688.7,742.7 L2632,703.8 M2688.7,742.7 L2630,799.5 M2701.8,816 L2658.5,878.2" stroke="#000" stroke-width="1.9" fill="none"/><path d="M2700,750 L2688.7,742.7" stroke="#000" stroke-width="1.9" fill="none"/><circle cx="2725" cy="836.7" r="12.3" stroke="#000" stroke-width="3.4" fill="none"/><circle cx="2725" cy="836.7" r="5.2" stroke="#000" stroke-width="2" fill="none"/><circle cx="2725" cy="836.7" r="1.6" fill="#000"/></g>
<g transform="translate(5701.4,0) scale(-1,1)"><path d="M2850.7,233.8 L2705,233.8 L2675.8,276.7 L2666.6,315 L2648.6,390 L2632.8,507 L2621.5,660 L2617,795.5 L2618,826 Q2620,860 2648,880 L2710,948 Q2716,957.5 2728,957.5 L2850.7,957.5" stroke="#000" stroke-width="2.2" fill="none"/><path d="M2721.8,233.8 L2694.2,276.7 L2683.5,315 L2664.3,390 L2639.5,525 L2632,660 L2628.3,795.5 L2628,826 Q2630,855 2655,874 L2716,942 Q2721,950 2730,951" stroke="#000" stroke-width="1.9" fill="none"/><path d="M2761.6,233.8 L2743.2,276.7 L2735.6,315 L2738,330" stroke="#000" stroke-width="1.9" fill="none"/><path d="M2675.8,276.7 L2850.7,276.7 M2674,279.7 L2850.7,279.7" stroke="#000" stroke-width="1.9" fill="none"/><path d="M2666.6,315 L2850.7,315" stroke="#000" stroke-width="3.2" fill="none"/><path d="M2749.3,315 L2749.3,304.2 Q2800,290 2850.7,289" stroke="#000" stroke-width="2" fill="none"/><path d="M2746.3,342.5 Q2800,322 2850.7,319.5" stroke="#000" stroke-width="1.9" fill="none"/><path d="M2745,347 Q2800,326.5 2850.7,324" stroke="#000" stroke-width="1.9" fill="none"/><path d="M2745,331 Q2710,340 2693.6,363 Q2684,376 2680,392 L2647,652 Q2647,664 2657.6,678.4 L2695.9,719 Q2700.4,726 2700.4,735 L2700.4,752" stroke="#000" stroke-width="1.9" fill="none"/><path d="M2745,336 Q2714,345 2698,367 Q2689,380 2685,395 L2652,652 Q2652,662 2662,674 L2700,714 Q2705,721 2705,731 L2705,750" stroke="#000" stroke-width="1.9" fill="none"/><path d="M2689,370 Q2680,382 2676,394 L2643,652" stroke="#000" stroke-width="1.9" fill="none"/><path d="M2745,331 Q2732,520 2713,752" stroke="#000" stroke-width="1.9" fill="none"/><path d="M2742,334 Q2727,520 2709,750" stroke="#000" stroke-width="1.9" fill="none"/><path d="M2707,346 L2713,357 M2694,362 L2703,370" stroke="#000" stroke-width="1.9" fill="none"/><path d="M2656.8,365.0 L2664.8,359.0" stroke="#000" stroke-width="1.9" fill="none"/><path d="M2654.5,374.5 L2662.5,368.5" stroke="#000" stroke-width="1.9" fill="none"/><path d="M2652.2,384.0 L2660.2,378.0" stroke="#000" stroke-width="1.9" fill="none"/><path d="M2650.0,393.5 L2658.0,387.5" stroke="#000" stroke-width="1.9" fill="none"/><path d="M2648.5,403.0 L2656.5,397.0" stroke="#000" stroke-width="1.9" fill="none"/><path d="M2647.2,412.5 L2655.2,406.5" stroke="#000" stroke-width="1.9" fill="none"/><path d="M2646.0,422.0 L2654.0,416.0" stroke="#000" stroke-width="1.9" fill="none"/><path d="M2644.7,431.5 L2652.7,425.5" stroke="#000" stroke-width="1.9" fill="none"/><path d="M2643.4,441.0 L2651.4,435.0" stroke="#000" stroke-width="1.9" fill="none"/><path d="M2642.1,450.5 L2650.1,444.5" stroke="#000" stroke-width="1.9" fill="none"/><path d="M2640.8,460.0 L2648.8,454.0" stroke="#000" stroke-width="1.9" fill="none"/><path d="M2639.5,469.5 L2647.5,463.5" stroke="#000" stroke-width="1.9" fill="none"/><path d="M2656,358 L2668,358 L2652,471 L2640,471 Z" stroke="#000" stroke-width="1.9" fill="none"/><path d="M2703,760 Q2710,840 2723.4,922.9 L2723,955" stroke="#000" stroke-width="1.9" fill="none"/><path d="M2707,760 Q2714,840 2727,920" stroke="#000" stroke-width="1.9" fill="none"/><path d="M2702,788.5 L2850.7,788.5" stroke="#000" stroke-width="1.9" fill="none"/><path d="M2723.4,922.9 L2850.7,922.9" stroke="#000" stroke-width="1.9" fill="none"/><path d="M2722,957.5 L2850.7,957.5" stroke="#000" stroke-width="3" fill="none"/><path d="M2688.7,742.7 L2632,703.8 M2688.7,742.7 L2630,799.5 M2701.8,816 L2658.5,878.2" stroke="#000" stroke-width="1.9" fill="none"/><path d="M2700,750 L2688.7,742.7" stroke="#000" stroke-width="1.9" fill="none"/><circle cx="2725" cy="836.7" r="12.3" stroke="#000" stroke-width="3.4" fill="none"/><circle cx="2725" cy="836.7" r="5.2" stroke="#000" stroke-width="2" fill="none"/><circle cx="2725" cy="836.7" r="1.6" fill="#000"/></g>
<path d="M2850.7,233.8 L2850.7,325.7" stroke="#000" stroke-width="1.9" fill="none"/>
<path d="M2850.2,918.5 L2850.2,953" stroke="#000" stroke-width="1.9" fill="none"/>
<rect x="2777.7" y="787.4" width="143.8" height="131.1" rx="4" stroke="#000" stroke-width="4.6" fill="#fff"/>
<path d="M2779,790.5 L2920,790.5" stroke="#000" stroke-width="5" fill="none"/>
<rect x="2783" y="792.5" width="133" height="121" rx="2" stroke="#000" stroke-width="1.9" fill="none"/>
<path d="M2786,797.5 Q2850,798.7 2913,797.5" stroke="#000" stroke-width="1.9" fill="none"/>
<path d="M2786,802.8 Q2850,804.0 2913,802.8" stroke="#000" stroke-width="1.9" fill="none"/>
<path d="M2786,808.0 Q2850,809.2 2913,808.0" stroke="#000" stroke-width="1.9" fill="none"/>
<path d="M2786,813.2 Q2850,814.5 2913,813.2" stroke="#000" stroke-width="1.9" fill="none"/>
<path d="M2786,818.5 Q2850,819.7 2913,818.5" stroke="#000" stroke-width="1.9" fill="none"/>
<path d="M2786,823.8 Q2850,825.0 2913,823.8" stroke="#000" stroke-width="1.9" fill="none"/>
<path d="M2786,829.0 Q2850,830.2 2913,829.0" stroke="#000" stroke-width="1.9" fill="none"/>
<path d="M2786,834.2 Q2850,835.5 2913,834.2" stroke="#000" stroke-width="1.9" fill="none"/>
<path d="M2786,839.5 Q2850,840.7 2913,839.5" stroke="#000" stroke-width="1.9" fill="none"/>
<path d="M2786,844.8 Q2850,846.0 2913,844.8" stroke="#000" stroke-width="1.9" fill="none"/>
<path d="M2786,850.0 Q2850,851.2 2913,850.0" stroke="#000" stroke-width="1.9" fill="none"/>
<path d="M2786,855.2 Q2850,856.5 2913,855.2" stroke="#000" stroke-width="1.9" fill="none"/>
<path d="M2786,860.5 Q2850,861.7 2913,860.5" stroke="#000" stroke-width="1.9" fill="none"/>
<path d="M2786,865.8 Q2850,867.0 2913,865.8" stroke="#000" stroke-width="1.9" fill="none"/>
<path d="M2786,871.0 Q2850,872.2 2913,871.0" stroke="#000" stroke-width="1.9" fill="none"/>
<path d="M2786,876.2 Q2850,877.5 2913,876.2" stroke="#000" stroke-width="1.9" fill="none"/>
<path d="M2786,881.5 Q2850,882.7 2913,881.5" stroke="#000" stroke-width="1.9" fill="none"/>
<path d="M2786,886.8 Q2850,888.0 2913,886.8" stroke="#000" stroke-width="1.9" fill="none"/>
<path d="M2786,892.0 Q2850,893.2 2913,892.0" stroke="#000" stroke-width="1.9" fill="none"/>
<path d="M2786,897.2 Q2850,898.5 2913,897.2" stroke="#000" stroke-width="1.9" fill="none"/>
<path d="M2786,902.5 Q2850,903.7 2913,902.5" stroke="#000" stroke-width="1.9" fill="none"/>
<path d="M2786,907.8 Q2850,909.0 2913,907.8" stroke="#000" stroke-width="1.9" fill="none"/>
<path d="M2775.3,432.2 Q2790,412 2814,405 L2830,405 L2830,411.5 L2815,411.5 Q2795,416 2777,436 Z" stroke="#000" stroke-width="1.9" fill="none"/>
<path d="M2799.6,415 L2799.6,456.5 L2817.7,455.6 Z" stroke="#000" stroke-width="1.9" fill="#000"/>
<text x="2821" y="438.5" font-size="40" font-weight="bold" fill="#fff" stroke="#000" stroke-width="2" textLength="106" lengthAdjust="spacingAndGlyphs">ERbLJ</text>
<path d="M2822,420.5 L2927,420.5" stroke="#000" stroke-width="3.5" fill="none"/>
<circle cx="2921.3" cy="397" r="5.2" fill="#000"/>
<circle cx="2982" cy="519" r="1.3" fill="#000"/>
</svg></body></html>
